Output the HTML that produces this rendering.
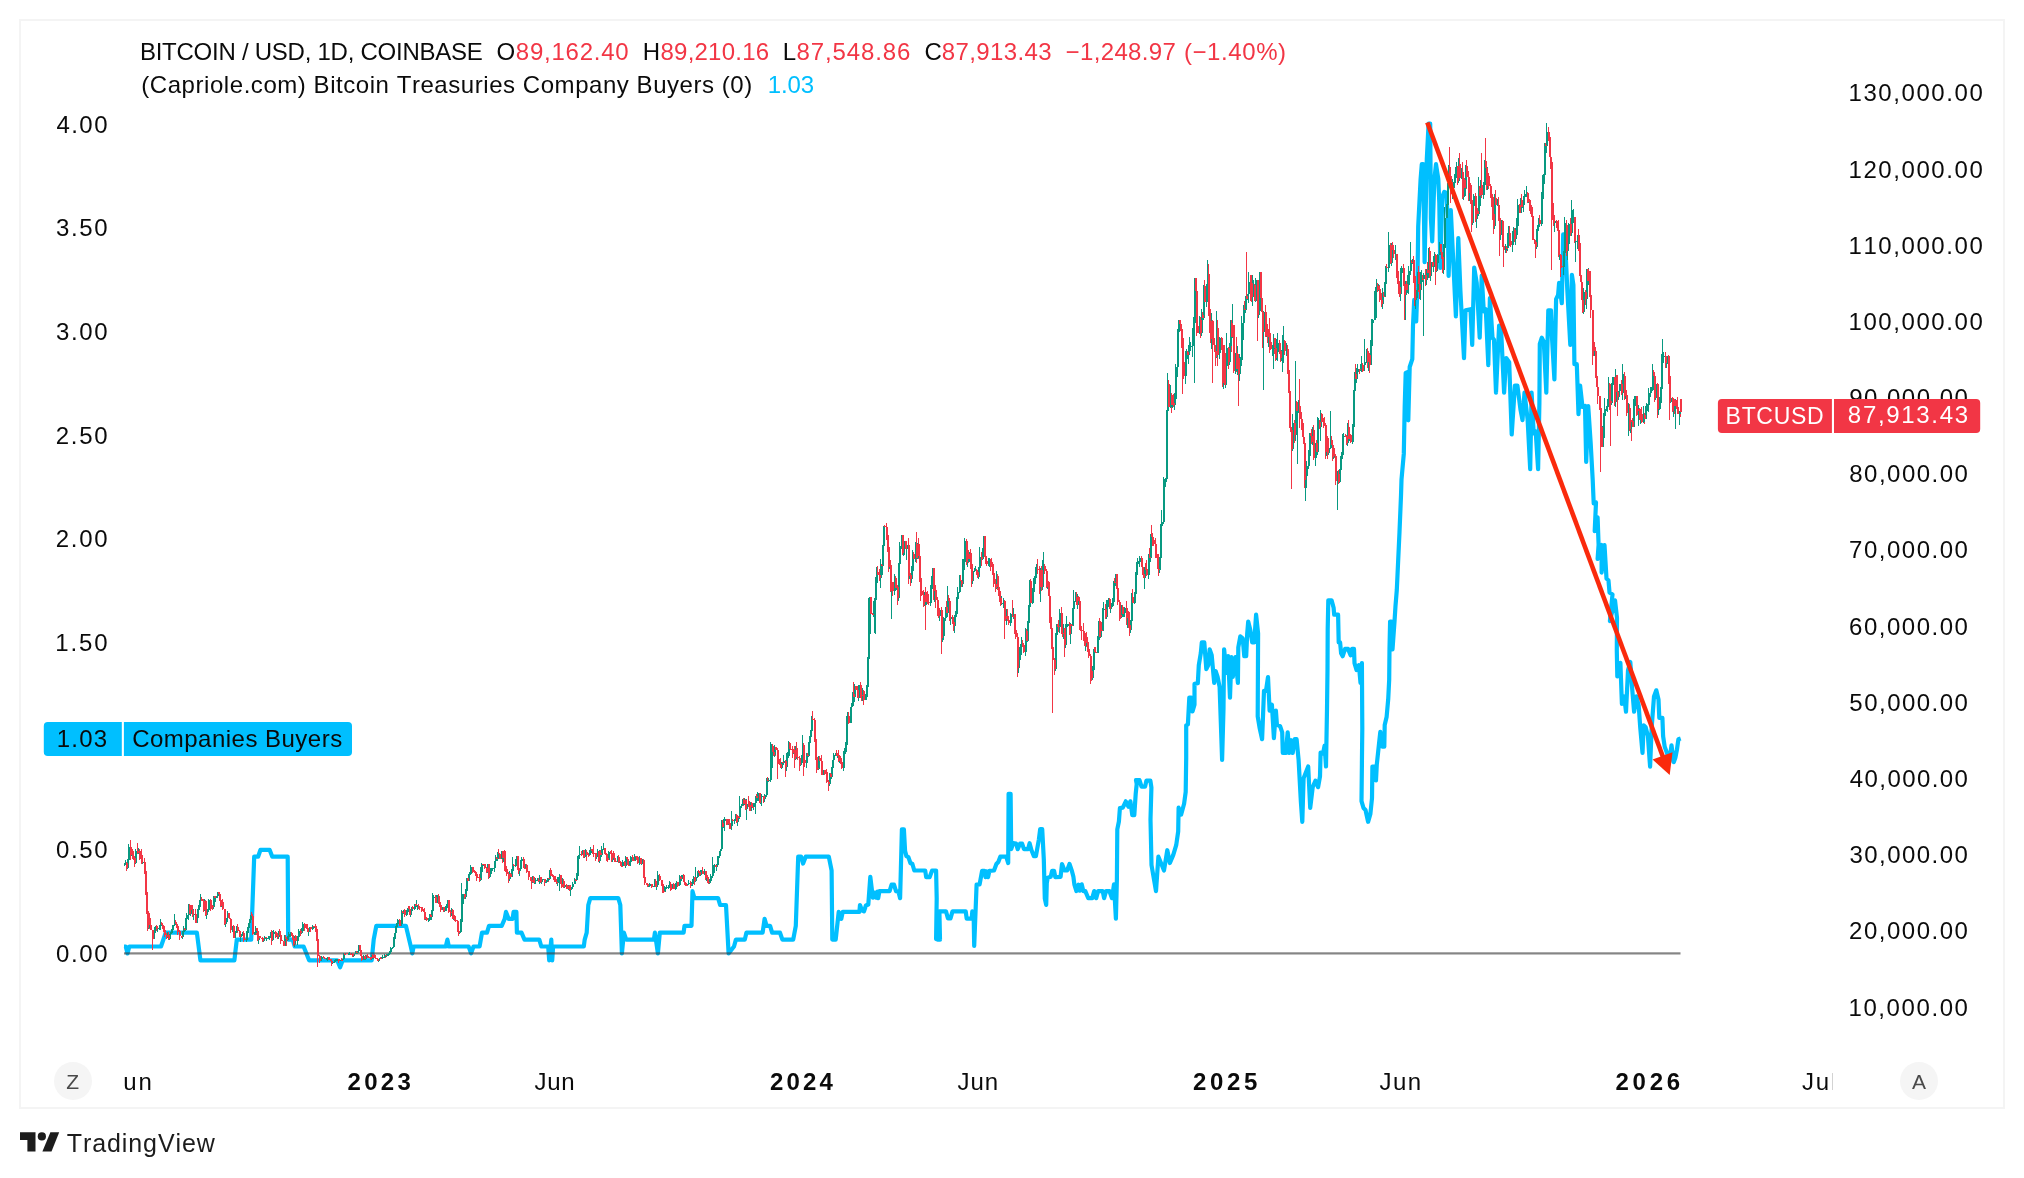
<!DOCTYPE html>
<html><head><meta charset="utf-8"><title>chart</title>
<style>html,body{margin:0;padding:0;background:#fff;overflow:hidden}body{width:2024px;height:1178px;font-family:"Liberation Sans",sans-serif}</style></head>
<body>
<svg width="2024" height="1178" viewBox="0 0 2024 1178" font-family='"Liberation Sans", sans-serif' style="display:block;font-kerning:none">
<rect width="2024" height="1178" fill="#fff"/>
<rect width="1" height="1" fill="#fff" style="mix-blend-mode:multiply"/>
<rect x="20" y="20" width="1984" height="1088" fill="none" stroke="#f4f4f4" stroke-width="2"/>
<path d="M124.0 946.5L125.8 946.5L127.5 953.4L129.3 946.5L161.0 946.5L165.7 932.7L196.9 932.7L200.4 960.3L234.4 960.3L236.8 939.6L251.2 939.6L254.2 856.7L258.1 856.7L260.5 849.8L269.6 849.8L272.3 856.7L287.7 856.7L288.2 939.6L292.7 939.6L294.7 946.5L303.6 946.5L309.1 960.3L337.2 960.3L340.1 967.2L342.7 960.3L371.7 960.3L373.7 939.6L376.3 925.8L405.9 925.8L410.8 946.5L412.3 953.4L413.6 946.5L445.8 946.5L447.4 939.6L448.8 946.5L468.6 946.5L471.1 953.4L473.5 946.5L479.6 946.5L482.0 932.7L487.0 932.7L489.0 925.8L501.7 925.8L504.7 918.9L506.0 911.9L508.7 918.9L512.6 918.9L513.6 911.9L516.4 911.9L516.9 932.7L521.5 932.7L524.5 939.6L539.3 939.6L541.3 946.5L548.2 946.5L549.2 960.3L551.3 939.6L552.2 960.3L553.1 946.5L583.8 946.5L584.7 939.6L586.7 932.7L588.3 905.0L590.3 898.1L618.3 898.1L620.3 905.0L621.9 953.4L623.9 932.7L626.2 939.6L653.9 939.6L654.9 932.7L657.9 953.4L659.8 932.7L683.6 932.7L684.5 925.8L691.5 925.8L692.5 891.2L694.4 898.1L718.1 898.1L720.1 905.0L726.0 905.0L728.6 953.4L734.0 946.5L735.9 939.6L744.8 939.6L746.4 932.7L762.6 932.7L764.6 918.9L766.6 925.8L770.1 925.8L772.1 932.7L780.0 932.7L782.4 939.6L793.2 939.6L795.8 925.8L798.2 856.7L801.2 856.7L803.1 863.6L805.7 856.7L828.8 856.7L831.6 870.5L832.3 939.6L835.7 939.6L838.7 911.9L841.3 918.9L842.7 911.9L859.4 911.9L860.0 905.0L862.0 910.4L864.0 911.4L865.9 905.5L868.3 904.5L870.3 876.8L872.8 897.6L874.8 892.6L876.2 897.6L877.4 891.7L878.2 898.2L879.4 891.1L889.6 891.1L891.6 884.7L894.0 884.7L896.0 891.1L898.5 891.7L900.1 898.2L901.9 829.4L903.9 829.4L905.1 851.1L906.4 856.1L908.4 857.1L910.4 863.0L912.4 864.0L914.3 870.5L925.2 870.5L926.2 877.2L929.6 877.2L932.1 870.5L936.1 870.5L936.7 898.6L936.1 939.1L938.1 939.7L938.7 918.3L940.0 939.7L939.4 911.4L946.0 911.4L947.9 918.3L950.5 918.3L952.5 911.4L965.7 911.4L966.7 918.7L971.7 918.7L972.3 911.4L973.6 912.4L974.2 946.0L976.6 884.7L979.6 884.3L982.1 870.9L984.5 870.9L985.5 877.2L986.5 871.3L988.1 877.2L989.4 870.9L994.0 870.5L996.4 864.0L998.3 862.0L1000.3 856.7L1006.2 856.7L1008.2 863.0L1008.6 793.8L1010.6 793.8L1011.2 849.2L1013.2 843.2L1016.1 843.6L1017.7 849.2L1020.1 843.6L1022.1 843.6L1024.0 849.2L1028.0 849.2L1029.6 843.2L1031.5 850.2L1033.9 856.1L1035.9 856.1L1038.9 839.3L1040.2 829.0L1042.2 829.0L1043.8 859.1L1044.8 898.6L1046.2 904.9L1046.8 882.8L1047.7 877.8L1050.7 876.8L1052.1 870.9L1054.1 870.9L1055.3 877.2L1060.6 876.8L1062.0 864.0L1064.5 870.5L1067.1 870.5L1069.5 864.0L1071.9 870.9L1073.4 876.8L1074.4 884.7L1076.4 891.1L1078.4 884.7L1079.8 890.7L1081.7 884.3L1083.3 891.1L1085.3 891.1L1088.3 898.2L1092.2 898.2L1094.2 891.1L1096.2 898.2L1098.1 891.1L1102.7 891.1L1104.1 898.2L1106.0 891.1L1109.4 891.1L1112.0 898.2L1114.0 884.3L1115.9 918.7L1116.9 878.8L1117.3 829.4L1118.9 821.5L1119.9 808.1L1122.8 807.7L1125.8 801.3L1128.4 806.7L1130.4 801.3L1132.3 815.2L1134.3 815.2L1135.7 793.8L1136.7 784.0L1136.0 780.1L1139.5 780.1L1141.5 786.6L1145.1 786.6L1146.4 780.7L1150.4 780.7L1151.4 787.6L1150.5 819.5L1151.5 865.0L1156.0 891.1L1158.4 856.7L1161.4 864.0L1164.0 870.5L1167.3 850.2L1169.9 863.0L1173.2 855.1L1176.2 845.2L1178.2 831.4L1178.6 807.7L1181.1 814.6L1184.1 803.7L1185.7 791.9L1186.2 758.0L1186.2 725.4L1187.9 724.4L1189.3 697.7L1191.3 697.7L1192.5 711.5L1194.5 704.6L1194.5 683.9L1197.8 683.3L1198.8 665.1L1200.8 653.2L1201.8 642.4L1204.3 642.4L1206.3 669.1L1208.3 665.1L1209.7 649.3L1211.7 655.2L1214.2 682.9L1215.6 671.0L1217.6 677.0L1219.6 686.8L1222.1 760.0L1223.5 708.6L1224.1 649.3L1226.5 673.0L1228.1 656.2L1230.0 697.7L1231.4 657.2L1232.8 677.0L1235.4 657.2L1237.9 682.9L1238.3 647.3L1240.3 636.4L1242.7 638.4L1244.3 656.2L1246.2 656.2L1247.2 633.5L1248.2 621.6L1250.2 629.5L1252.2 642.4L1254.2 642.4L1256.1 614.7L1258.1 633.5L1257.7 716.5L1259.7 728.3L1262.1 739.2L1264.0 690.8L1266.0 690.8L1268.0 677.0L1269.6 710.6L1271.9 704.6L1273.9 738.2L1275.9 710.6L1276.9 724.4L1280.2 726.4L1282.2 732.3L1282.8 753.0L1285.8 753.0L1287.7 732.3L1289.3 753.0L1291.3 740.2L1292.7 753.0L1294.7 739.2L1296.6 739.2L1298.6 760.0L1300.9 802.1L1302.3 821.8L1303.6 778.3L1308.2 766.5L1310.2 808.0L1312.7 787.2L1315.5 780.7L1318.1 787.2L1320.0 776.4L1320.6 752.6L1323.0 753.6L1324.6 745.7L1326.0 766.5L1327.0 709.2L1327.5 669.6L1327.7 629.5L1328.3 600.3L1331.6 600.3L1333.6 607.8L1334.2 614.7L1338.1 614.7L1338.7 642.4L1340.1 642.4L1341.1 653.2L1342.7 656.2L1345.1 648.9L1348.0 648.9L1350.6 655.2L1352.0 648.9L1354.0 648.9L1354.5 663.1L1356.5 670.0L1358.9 665.1L1360.5 682.9L1361.9 663.1L1362.3 728.3L1361.5 801.1L1363.5 808.0L1365.5 810.0L1368.1 821.8L1370.4 813.9L1372.0 798.1L1372.4 766.5L1374.4 766.5L1376.0 780.3L1376.8 764.5L1378.7 746.7L1380.3 731.9L1382.3 746.7L1384.3 746.7L1384.7 725.0L1386.6 717.1L1388.2 699.3L1389.2 679.5L1389.5 649.3L1390.1 621.6L1391.5 621.6L1392.5 649.3L1394.5 621.6L1395.5 605.8L1396.8 590.0L1399.5 532.0L1401.0 495.6L1401.5 479.6L1403.8 453.9L1404.7 406.5L1405.7 372.9L1408.0 371.9L1408.3 420.3L1409.7 367.0L1412.3 359.1L1413.0 325.5L1414.2 299.8L1416.2 321.5L1417.4 287.9L1418.2 226.5L1420.6 179.1L1421.8 164.2L1423.2 164.2L1424.6 262.1L1426.8 159.3L1428.6 123.7L1430.2 123.7L1430.9 218.6L1432.2 241.3L1434.4 179.1L1436.0 164.2L1438.3 179.1L1439.3 202.8L1440.3 268.0L1442.3 196.8L1444.3 191.9L1446.2 192.9L1447.8 218.6L1448.6 275.9L1450.8 210.0L1455.9 316.4L1458.3 238.0L1460.4 290.9L1464.0 358.1L1465.5 310.3L1470.5 309.2L1472.2 344.9L1474.2 267.5L1476.7 282.8L1479.7 337.7L1481.7 275.6L1483.8 311.3L1485.8 309.2L1488.3 365.2L1489.9 298.0L1492.5 337.7L1494.0 339.8L1496.0 392.7L1499.1 325.5L1501.1 329.6L1504.1 392.7L1506.2 358.1L1509.2 362.2L1511.7 434.5L1514.9 385.6L1517.4 385.6L1520.4 409.0L1522.5 420.2L1524.5 392.7L1527.6 419.2L1530.2 469.1L1531.6 392.7L1533.7 433.4L1535.7 431.4L1538.1 469.1L1539.4 402.9L1539.8 343.8L1541.8 337.7L1543.8 341.8L1546.3 392.7L1548.3 310.3L1551.0 310.3L1552.0 337.7L1554.4 379.5L1556.1 299.1L1558.1 295.0L1559.1 282.8L1561.8 303.1L1563.2 234.4L1564.8 234.4L1567.3 289.7L1570.3 344.9L1571.9 274.9L1573.4 285.0L1574.4 364.2L1576.8 364.2L1578.5 414.1L1580.1 385.6L1582.5 407.0L1585.0 406.0L1586.2 462.0L1588.2 406.0L1590.7 443.6L1592.7 479.9L1593.7 503.5L1596.0 502.5L1594.7 531.1L1597.6 517.3L1598.6 545.0L1597.6 558.8L1601.6 545.0L1601.6 572.6L1604.5 545.0L1606.5 578.6L1608.5 580.6L1609.5 592.4L1612.5 594.4L1609.9 621.1L1615.0 600.3L1617.0 618.1L1616.8 650.6L1617.3 676.5L1620.4 662.8L1621.9 704.0L1624.2 696.4L1626.0 711.7L1628.0 670.4L1630.3 662.0L1631.8 684.2L1634.1 711.7L1636.4 696.4L1638.7 705.6L1640.2 727.0L1642.5 752.9L1643.7 725.4L1645.6 727.0L1647.9 736.1L1650.1 766.7L1651.7 727.0L1654.0 696.4L1656.3 690.3L1658.5 699.4L1659.3 717.8L1662.4 717.8L1663.1 736.1L1664.7 746.8L1667.0 752.9L1669.2 762.1L1671.5 745.3L1673.8 762.1L1675.4 757.5L1676.9 749.9L1678.4 739.2L1680.7 738.4" stroke="#00bfff" stroke-width="4.2" fill="none" stroke-linejoin="round" stroke-linecap="butt"/>
<rect x="124" y="952.3" width="1556.5" height="2.2" fill="#3a3a3a" fill-opacity="0.62"/>
<g shape-rendering="crispEdges" fill="none">
<path d="M124.50 862.5V865.7M125.50 860.2V864.6M127.50 858.8V868.7M128.50 844.0V861.5M131.50 849.1V855.5M135.50 849.0V864.0M138.50 848.4V854.4M140.50 850.9V859.1M142.50 859.4V864.2M148.50 915.5V929.3M153.50 930.5V938.9M154.50 926.9V932.8M155.50 925.7V929.4M157.50 925.5V931.5M159.50 924.8V929.9M160.50 919.2V929.5M167.50 931.6V937.8M169.50 933.7V940.0M170.50 932.1V935.6M171.50 929.4V934.2M172.50 925.2V930.9M174.50 914.2V925.6M178.50 930.1V932.4M182.50 931.3V938.7M183.50 926.3V932.5M185.50 917.8V930.6M186.50 912.7V919.0M188.50 903.8V919.5M190.50 904.8V915.5M193.50 908.6V920.0M196.50 916.5V922.8M197.50 909.0V920.7M198.50 904.7V913.3M199.50 900.4V908.3M200.50 894.3V901.5M204.50 898.8V911.0M206.50 909.4V919.3M207.50 909.1V915.1M208.50 898.6V912.1M213.50 895.6V908.5M215.50 896.3V901.9M217.50 892.0V898.4M221.50 901.4V907.4M225.50 921.8V927.2M226.50 917.6V922.7M227.50 910.7V918.8M232.50 925.7V932.3M234.50 932.4V937.9M235.50 930.9V934.7M236.50 926.0V932.4M240.50 934.7V941.5M241.50 934.2V936.3M242.50 931.6V935.4M246.50 931.3V942.4M247.50 927.4V936.2M248.50 922.5V927.6M249.50 919.2V923.7M250.50 914.6V921.4M254.50 932.3V934.9M255.50 926.2V934.7M258.50 935.4V943.6M263.50 937.9V941.5M264.50 936.2V939.4M266.50 937.7V940.7M268.50 935.6V938.8M269.50 935.6V939.5M270.50 931.9V938.2M272.50 931.2V941.0M273.50 930.1V935.2M276.50 934.5V936.7M278.50 930.6V938.6M284.50 935.2V945.9M287.50 936.1V941.3M288.50 932.4V936.5M290.50 931.8V937.4M294.50 936.0V947.0M297.50 936.2V944.6M298.50 928.7V938.6M299.50 930.5V931.5M301.50 928.4V934.3M302.50 921.5V931.2M305.50 924.4V928.0M308.50 927.6V936.2M309.50 926.9V931.0M312.50 925.1V929.8M314.50 925.6V928.2M320.50 957.1V961.4M321.50 955.7V958.5M322.50 956.6V959.3M326.50 958.1V960.0M327.50 957.2V960.5M332.50 961.9V964.2M334.50 960.0V962.6M335.50 959.1V961.5M336.50 959.1V960.3M337.50 958.9V960.8M339.50 959.2V961.3M342.50 958.5V961.2M343.50 952.5V959.8M345.50 952.8V955.2M348.50 953.1V954.2M349.50 952.3V954.5M351.50 953.2V954.5M353.50 954.2V957.4M355.50 951.3V954.4M357.50 951.3V953.7M358.50 944.8V951.3M363.50 954.5V959.9M365.50 954.5V959.7M371.50 954.6V959.5M373.50 954.7V959.1M378.50 959.1V961.6M379.50 957.6V960.0M381.50 956.6V959.0M382.50 955.2V958.1M384.50 953.7V957.6M386.50 954.4V957.2M387.50 954.4V955.8M388.50 952.5V955.3M389.50 950.8V953.9M390.50 947.3V952.0M392.50 947.3V949.0M393.50 936.6V948.0M394.50 933.1V939.4M395.50 925.8V934.9M396.50 923.2V928.0M397.50 918.8V924.4M400.50 923.9V926.1M401.50 909.6V926.1M403.50 909.6V913.8M406.50 910.3V915.7M407.50 907.6V912.8M410.50 909.4V917.2M411.50 906.6V912.3M414.50 904.0V910.4M416.50 900.3V907.4M417.50 905.4V909.7M425.50 917.4V920.3M428.50 917.8V921.6M429.50 914.2V921.0M431.50 910.0V919.6M432.50 893.2V913.0M433.50 894.8V901.4M436.50 895.4V902.9M437.50 895.2V900.3M441.50 904.9V910.3M444.50 908.7V911.5M445.50 906.4V910.3M446.50 904.3V911.3M447.50 899.8V906.7M451.50 908.4V915.5M453.50 912.4V920.2M459.50 931.3V933.9M460.50 919.4V932.3M461.50 882.9V923.0M462.50 893.5V904.9M465.50 889.2V898.8M466.50 878.3V891.4M468.50 873.7V880.7M469.50 872.3V874.6M470.50 865.2V875.0M480.50 867.3V881.4M481.50 863.0V874.3M483.50 863.9V865.5M487.50 864.4V872.6M489.50 871.4V877.7M490.50 868.0V875.9M491.50 867.8V871.7M492.50 867.9V870.7M494.50 861.0V871.5M495.50 855.2V862.3M497.50 852.2V861.0M501.50 851.3V859.4M503.50 850.6V862.2M509.50 870.8V880.7M511.50 869.0V877.0M512.50 856.6V872.4M515.50 858.5V866.6M516.50 856.2V861.4M519.50 868.6V875.8M520.50 859.9V869.3M521.50 857.0V863.9M525.50 863.9V868.4M532.50 875.5V883.2M534.50 880.6V883.5M535.50 877.7V884.1M537.50 878.0V880.2M539.50 875.0V884.2M541.50 879.6V883.8M542.50 879.0V880.6M545.50 880.4V882.6M546.50 879.6V883.4M547.50 877.6V882.4M549.50 870.1V879.6M557.50 876.6V885.9M559.50 874.0V891.3M562.50 877.7V887.2M564.50 883.1V888.4M568.50 884.8V889.5M570.50 888.2V896.4M571.50 886.5V889.2M572.50 881.5V887.8M574.50 878.0V884.0M576.50 872.6V880.8M577.50 856.3V878.6M578.50 855.0V859.4M579.50 846.3V856.1M582.50 849.5V855.2M584.50 854.4V857.6M585.50 849.4V857.0M589.50 849.6V856.1M590.50 846.7V853.9M596.50 853.6V859.1M597.50 848.5V854.8M599.50 850.4V863.2M601.50 846.0V856.6M603.50 843.1V850.3M608.50 850.9V860.0M612.50 852.5V862.1M617.50 855.9V861.8M619.50 861.0V862.8M622.50 859.9V866.3M625.50 856.4V867.5M629.50 861.0V865.5M630.50 856.1V865.0M634.50 854.4V861.2M639.50 855.7V865.0M641.50 861.9V864.7M642.50 859.4V862.3M648.50 885.0V887.4M649.50 883.1V886.3M650.50 883.9V885.8M652.50 885.1V887.0M654.50 879.3V886.5M656.50 884.2V890.2M657.50 871.0V885.8M658.50 874.8V877.4M664.50 885.6V891.5M665.50 887.0V888.6M666.50 885.4V888.9M668.50 885.2V888.6M669.50 880.9V887.1M672.50 883.7V888.5M675.50 883.4V889.8M676.50 880.8V886.3M678.50 883.0V886.4M679.50 874.5V886.3M681.50 875.3V880.7M687.50 883.9V885.9M688.50 880.2V885.0M691.50 882.2V885.8M692.50 878.7V886.3M693.50 875.5V879.6M695.50 867.2V881.6M697.50 870.8V877.6M700.50 870.4V875.6M701.50 870.3V875.2M704.50 868.6V874.9M706.50 874.8V880.8M709.50 878.7V884.3M710.50 873.9V882.7M712.50 856.9V878.0M713.50 864.5V873.3M714.50 864.4V868.5M716.50 863.9V870.9M717.50 856.1V866.0M719.50 850.6V857.7M720.50 848.6V850.7M721.50 820.4V849.3M723.50 819.3V827.5M724.50 816.7V830.6M727.50 821.4V824.9M730.50 822.6V828.8M731.50 811.3V829.6M734.50 818.5V823.8M735.50 814.3V820.7M737.50 814.7V825.7M739.50 795.9V819.3M741.50 804.0V808.2M742.50 799.3V806.0M744.50 798.2V804.8M746.50 799.2V819.6M750.50 801.9V810.5M753.50 802.7V809.5M755.50 795.7V813.9M757.50 792.0V800.9M758.50 792.7V800.5M760.50 795.7V803.5M761.50 793.8V805.5M764.50 793.6V802.2M765.50 794.5V797.9M766.50 777.8V797.0M768.50 778.3V782.1M770.50 741.9V782.4M771.50 744.4V768.6M774.50 744.6V756.8M781.50 761.5V769.3M783.50 754.5V764.5M786.50 753.3V771.2M787.50 752.0V762.6M788.50 741.4V757.9M793.50 749.5V753.8M795.50 746.3V759.5M800.50 761.3V765.5M801.50 755.4V763.1M802.50 735.2V758.7M806.50 752.7V767.8M808.50 741.8V757.2M809.50 735.5V743.7M810.50 730.2V737.4M811.50 715.6V735.9M818.50 755.5V769.6M822.50 770.0V775.3M823.50 769.7V773.4M825.50 772.0V774.0M829.50 772.9V785.8M831.50 767.2V779.4M832.50 759.8V769.5M833.50 752.5V761.4M835.50 752.8V756.2M837.50 753.7V758.2M839.50 755.3V763.1M843.50 750.9V770.7M844.50 748.4V754.6M845.50 741.7V753.8M846.50 716.2V749.0M847.50 712.2V723.9M850.50 707.1V723.1M851.50 703.4V707.9M852.50 692.2V705.7M854.50 684.3V701.9M858.50 684.8V700.7M859.50 684.7V689.9M862.50 688.1V701.2M865.50 693.9V700.4M866.50 685.3V698.5M867.50 656.9V690.7M868.50 597.7V664.8M869.50 596.6V634.3M873.50 600.6V616.9M874.50 598.4V633.3M875.50 577.3V634.4M876.50 566.6V584.1M880.50 559.4V588.0M882.50 544.5V574.9M883.50 525.9V546.6M889.50 562.5V568.5M891.50 579.4V618.6M894.50 574.0V595.0M896.50 585.8V590.4M898.50 562.8V600.9M899.50 541.8V565.8M901.50 535.1V548.7M903.50 543.5V556.1M904.50 541.0V555.0M906.50 542.5V559.6M909.50 569.8V578.9M911.50 566.1V583.4M912.50 550.0V578.3M915.50 541.9V562.3M917.50 542.8V559.2M924.50 592.3V605.6M926.50 593.4V605.2M930.50 585.2V606.0M931.50 576.3V597.3M932.50 567.5V578.7M934.50 584.6V601.8M939.50 608.3V621.2M940.50 609.6V612.2M942.50 635.9V642.2M943.50 617.1V639.8M945.50 606.8V620.8M947.50 586.0V616.8M950.50 612.4V625.0M954.50 615.4V633.3M955.50 611.1V623.1M956.50 597.1V614.4M957.50 586.8V602.8M959.50 575.4V593.0M962.50 559.3V587.2M963.50 558.5V577.1M964.50 537.5V568.3M967.50 548.1V566.7M969.50 551.9V562.2M972.50 566.7V584.3M974.50 567.9V571.6M975.50 566.0V570.3M978.50 567.3V578.7M979.50 547.4V571.6M982.50 548.3V559.6M983.50 536.4V553.1M988.50 557.9V565.9M989.50 558.0V566.7M996.50 571.4V588.8M1001.50 595.8V605.2M1003.50 597.7V608.1M1006.50 608.8V625.3M1010.50 612.9V626.3M1011.50 614.0V619.0M1013.50 607.9V619.4M1018.50 654.2V672.5M1019.50 646.7V659.5M1020.50 643.8V659.2M1021.50 636.6V645.5M1025.50 627.9V655.5M1027.50 621.2V641.8M1028.50 605.2V625.6M1029.50 580.3V612.3M1032.50 587.9V604.3M1033.50 578.0V592.9M1034.50 576.4V586.5M1035.50 566.8V583.5M1036.50 564.4V572.2M1040.50 567.8V601.8M1042.50 559.9V590.4M1043.50 552.4V571.5M1047.50 577.2V588.8M1055.50 633.4V671.2M1056.50 623.6V642.4M1059.50 609.1V633.1M1063.50 623.9V639.4M1065.50 624.1V648.0M1066.50 615.7V632.2M1068.50 623.5V626.0M1070.50 622.8V643.5M1072.50 607.7V626.2M1073.50 589.9V616.2M1075.50 591.9V602.4M1077.50 594.2V609.2M1085.50 634.4V650.8M1092.50 666.1V679.9M1093.50 649.3V672.2M1097.50 636.4V653.3M1098.50 621.1V640.4M1100.50 629.2V638.4M1102.50 607.8V631.1M1103.50 601.9V610.4M1106.50 599.6V618.7M1107.50 600.0V605.5M1108.50 598.3V606.7M1110.50 601.4V613.2M1112.50 597.6V606.8M1113.50 580.6V606.4M1115.50 574.3V585.5M1121.50 604.5V618.4M1123.50 610.6V617.0M1124.50 606.6V617.3M1127.50 607.7V628.1M1130.50 620.0V632.5M1131.50 592.6V623.8M1134.50 592.2V603.9M1135.50 571.9V598.6M1136.50 561.6V575.6M1137.50 557.8V568.6M1138.50 561.2V562.4M1139.50 555.7V566.9M1144.50 566.5V588.9M1148.50 553.8V578.6M1150.50 534.4V562.2M1156.50 551.4V558.3M1159.50 556.8V573.1M1160.50 524.1V560.9M1161.50 509.9V529.9M1163.50 476.6V523.9M1164.50 478.8V493.7M1165.50 478.2V483.0M1166.50 409.7V480.3M1167.50 372.6V412.1M1170.50 385.4V408.2M1172.50 395.5V408.3M1174.50 393.4V409.5M1175.50 364.1V402.4M1177.50 329.1V376.8M1178.50 319.9V338.4M1185.50 350.7V383.5M1186.50 348.9V361.0M1188.50 344.5V364.0M1189.50 336.8V354.5M1190.50 341.9V346.6M1192.50 328.2V357.0M1193.50 317.0V333.8M1194.50 277.5V383.3M1199.50 316.2V333.6M1201.50 309.1V335.8M1203.50 284.9V319.9M1206.50 284.0V307.0M1207.50 259.7V295.8M1211.50 312.5V348.5M1216.50 311.4V358.4M1218.50 348.8V354.7M1219.50 336.8V358.8M1223.50 346.1V389.3M1225.50 353.3V387.6M1226.50 333.3V377.7M1229.50 342.6V364.8M1230.50 320.0V354.6M1232.50 303.7V338.2M1235.50 352.6V373.9M1237.50 345.6V374.9M1239.50 354.0V380.5M1240.50 356.6V363.4M1241.50 316.4V365.7M1243.50 304.7V339.6M1245.50 296.1V312.8M1247.50 293.5V299.8M1248.50 272.3V303.3M1252.50 275.1V306.4M1253.50 280.0V295.8M1255.50 277.7V301.5M1258.50 301.2V318.0M1259.50 271.6V314.2M1263.50 311.2V390.4M1266.50 319.9V337.2M1268.50 331.6V346.6M1272.50 344.8V356.4M1273.50 334.3V369.1M1276.50 339.3V359.5M1277.50 333.4V361.2M1281.50 349.9V360.6M1282.50 334.6V372.0M1283.50 326.3V362.7M1286.50 342.8V355.9M1292.50 413.5V450.8M1295.50 360.7V440.5M1297.50 402.7V464.1M1298.50 400.0V413.0M1305.50 469.5V501.0M1306.50 460.9V487.7M1308.50 449.5V468.5M1309.50 433.2V460.5M1312.50 426.6V445.1M1315.50 443.2V466.1M1317.50 416.5V454.8M1318.50 417.9V436.4M1320.50 409.5V440.8M1326.50 435.1V455.7M1328.50 441.4V454.8M1330.50 410.7V448.9M1333.50 451.4V458.7M1337.50 471.4V510.0M1339.50 468.9V483.0M1340.50 455.8V471.0M1341.50 452.3V459.0M1342.50 433.6V459.4M1343.50 433.3V437.2M1347.50 422.8V445.5M1349.50 430.0V441.4M1352.50 424.2V443.6M1353.50 389.9V430.0M1354.50 372.2V392.7M1356.50 368.1V383.4M1357.50 364.1V376.1M1360.50 363.6V370.7M1361.50 355.5V371.7M1363.50 365.2V371.2M1364.50 339.3V368.9M1366.50 349.1V362.8M1368.50 353.2V371.4M1370.50 340.3V365.4M1371.50 319.3V346.1M1372.50 319.4V323.4M1374.50 290.5V320.3M1375.50 286.8V291.6M1376.50 278.7V317.9M1378.50 284.3V291.2M1382.50 288.3V309.4M1384.50 281.8V297.4M1385.50 265.8V286.5M1388.50 232.4V271.5M1389.50 244.6V256.8M1391.50 243.4V266.0M1395.50 244.7V259.7M1400.50 268.1V301.1M1401.50 265.9V283.2M1405.50 281.3V320.3M1407.50 274.8V292.5M1408.50 265.7V293.5M1410.50 241.9V275.2M1412.50 259.4V264.1M1415.50 283.0V308.9M1417.50 271.7V298.2M1420.50 271.7V300.1M1421.50 269.8V290.2M1423.50 272.8V336.3M1426.50 269.0V284.8M1428.50 248.3V277.6M1430.50 254.7V280.8M1433.50 255.8V271.6M1434.50 252.1V266.5M1436.50 257.1V271.9M1437.50 253.5V269.9M1439.50 241.6V255.3M1443.50 243.7V273.7M1444.50 206.6V247.9M1446.50 204.2V217.9M1447.50 183.0V204.5M1448.50 164.7V186.1M1452.50 178.8V199.1M1454.50 174.4V188.4M1455.50 166.8V183.3M1456.50 161.5V171.3M1458.50 158.4V182.8M1461.50 167.5V179.3M1463.50 173.7V200.1M1465.50 164.5V196.2M1469.50 180.1V200.8M1472.50 204.5V225.0M1473.50 194.4V210.3M1476.50 209.4V228.2M1478.50 176.6V215.6M1480.50 179.8V206.4M1483.50 181.6V198.5M1484.50 159.7V189.2M1487.50 166.8V189.7M1494.50 193.5V229.1M1497.50 199.1V206.0M1500.50 226.3V239.5M1501.50 219.6V232.5M1505.50 243.9V252.7M1507.50 233.3V250.6M1508.50 225.6V245.1M1512.50 230.9V252.3M1513.50 227.3V239.1M1515.50 227.6V244.6M1516.50 217.6V232.3M1517.50 198.6V235.0M1520.50 198.2V213.0M1522.50 203.6V207.8M1523.50 196.2V211.9M1524.50 190.0V200.6M1526.50 186.0V197.2M1528.50 193.8V203.0M1536.50 229.0V248.8M1537.50 224.9V233.8M1538.50 217.6V229.4M1541.50 191.6V225.6M1542.50 174.8V202.1M1543.50 173.8V193.5M1544.50 143.0V183.6M1546.50 123.3V153.3M1554.50 216.4V232.1M1559.50 244.2V260.4M1563.50 251.3V274.9M1564.50 216.6V258.3M1565.50 223.3V242.2M1567.50 234.4V259.8M1568.50 222.7V244.8M1571.50 199.8V235.8M1572.50 210.4V225.2M1573.50 209.4V220.7M1575.50 239.5V262.1M1577.50 234.5V249.4M1583.50 288.1V313.5M1586.50 268.9V308.5M1588.50 268.0V285.0M1593.50 340.0V355.7M1602.50 425.8V446.5M1603.50 413.0V431.5M1604.50 398.3V438.1M1606.50 405.5V411.0M1607.50 398.6V412.4M1608.50 376.8V406.7M1611.50 383.4V404.9M1612.50 377.1V389.8M1615.50 368.9V406.8M1618.50 390.7V400.3M1619.50 383.5V392.5M1622.50 364.0V399.6M1623.50 373.6V377.4M1625.50 383.6V399.4M1628.50 403.4V436.1M1630.50 419.7V433.1M1633.50 398.6V426.5M1634.50 395.5V406.7M1638.50 404.6V426.2M1640.50 411.7V424.2M1643.50 406.3V423.0M1645.50 405.8V419.1M1646.50 403.1V412.6M1647.50 404.2V408.9M1648.50 387.9V412.3M1650.50 387.2V396.6M1651.50 387.1V392.4M1652.50 364.0V391.3M1655.50 383.9V399.8M1658.50 403.8V415.3M1659.50 396.6V409.1M1660.50 386.5V403.7M1661.50 353.7V390.1M1662.50 339.3V366.9M1663.50 352.3V359.7M1666.50 361.0V368.4M1667.50 355.6V363.5M1670.50 397.5V403.1M1673.50 398.5V416.5M1675.50 398.8V429.2M1679.50 410.8V424.9" stroke="#089981" stroke-width="1"/>
<path d="M126.50 861.6V871.1M130.50 839.5V859.8M132.50 849.0V858.6M133.50 855.6V859.7M134.50 856.1V866.6M137.50 842.5V853.6M139.50 848.9V859.7M141.50 849.4V863.7M144.50 857.7V873.5M145.50 868.8V895.4M146.50 891.5V914.1M147.50 910.0V931.4M149.50 913.3V928.5M150.50 922.5V929.7M152.50 929.6V950.2M156.50 925.1V931.4M161.50 922.1V925.5M162.50 922.6V929.4M163.50 929.0V931.7M164.50 925.6V937.3M166.50 933.2V938.6M168.50 931.6V940.0M175.50 919.8V924.7M176.50 922.6V928.0M177.50 923.7V934.6M179.50 929.8V940.3M181.50 936.1V937.6M184.50 928.2V930.2M189.50 904.1V915.4M191.50 904.7V910.9M192.50 910.0V916.9M195.50 908.7V922.9M201.50 897.2V900.8M203.50 898.6V911.5M205.50 899.5V915.9M210.50 899.4V910.8M211.50 903.9V908.7M212.50 905.4V909.8M214.50 896.0V899.6M218.50 892.0V893.8M219.50 893.7V901.0M220.50 899.2V906.9M222.50 899.2V909.7M224.50 908.5V925.1M228.50 913.3V918.3M229.50 915.1V919.3M230.50 917.7V933.3M233.50 924.6V938.3M237.50 924.1V933.4M239.50 929.5V937.3M243.50 931.3V941.9M244.50 938.8V940.4M251.50 911.7V919.2M252.50 913.5V935.4M256.50 927.8V934.6M257.50 927.9V941.1M259.50 935.7V939.0M261.50 937.8V939.1M262.50 937.1V941.8M265.50 937.1V938.3M271.50 930.0V944.6M275.50 931.3V938.4M277.50 932.6V939.2M279.50 928.9V936.3M280.50 934.8V944.0M281.50 939.2V941.4M283.50 940.6V945.9M285.50 935.2V938.7M286.50 937.6V946.2M291.50 931.6V936.3M292.50 934.8V940.2M293.50 936.6V945.6M295.50 934.6V944.8M300.50 929.1V936.2M304.50 922.7V930.8M306.50 924.3V929.4M307.50 927.2V931.8M310.50 926.7V931.6M313.50 925.6V928.4M315.50 924.3V931.8M316.50 927.6V941.3M317.50 938.9V967.0M319.50 955.2V963.0M323.50 956.0V958.3M324.50 957.3V959.2M328.50 957.3V959.5M329.50 958.0V959.5M330.50 958.8V961.4M331.50 959.6V966.0M338.50 958.7V962.6M341.50 958.4V961.4M344.50 953.2V954.2M346.50 952.6V954.4M350.50 953.2V954.8M352.50 953.0V957.2M356.50 951.4V953.3M359.50 944.8V950.8M360.50 950.0V956.1M361.50 955.0V960.5M364.50 955.6V959.6M366.50 954.9V955.9M367.50 954.0V957.7M368.50 955.9V957.4M370.50 956.7V960.4M372.50 953.8V958.7M374.50 954.1V958.4M375.50 958.1V959.1M377.50 958.0V960.6M380.50 957.3V958.8M385.50 955.0V958.1M399.50 919.1V926.3M402.50 910.5V916.7M404.50 909.1V916.9M408.50 906.0V912.4M409.50 906.2V914.9M412.50 905.9V909.3M415.50 903.9V906.7M418.50 904.4V908.7M419.50 906.3V910.4M421.50 906.7V911.8M422.50 907.1V911.2M423.50 909.9V912.2M424.50 908.4V919.8M426.50 917.3V920.8M430.50 913.9V917.2M435.50 895.3V902.9M438.50 894.3V904.1M439.50 899.6V907.4M440.50 904.5V912.0M443.50 906.8V911.7M448.50 899.8V913.2M450.50 910.3V917.0M452.50 909.1V918.9M454.50 915.3V920.7M455.50 919.3V921.5M457.50 919.5V931.9M458.50 930.5V935.6M464.50 893.6V899.0M467.50 878.3V881.3M472.50 866.6V872.5M473.50 869.1V871.7M474.50 870.0V873.0M475.50 871.4V876.2M476.50 873.5V880.8M477.50 876.1V877.8M479.50 874.2V882.1M482.50 863.9V867.8M484.50 863.9V869.1M486.50 866.7V872.6M488.50 863.5V878.8M496.50 856.6V859.3M498.50 849.3V855.0M499.50 852.5V859.0M502.50 850.9V862.8M504.50 850.3V870.8M505.50 864.6V871.6M506.50 868.3V876.4M508.50 872.2V882.8M510.50 873.2V877.4M513.50 863.7V866.6M517.50 856.2V869.9M518.50 867.7V874.0M523.50 857.3V867.5M524.50 864.8V868.2M526.50 863.8V872.9M527.50 869.7V872.1M528.50 870.9V879.5M530.50 876.7V880.7M531.50 879.3V888.7M533.50 875.8V883.2M538.50 878.4V881.9M540.50 877.1V883.3M544.50 878.8V885.9M548.50 877.8V882.0M550.50 868.2V878.9M552.50 874.4V876.7M553.50 875.4V880.4M554.50 878.7V881.8M555.50 876.3V881.9M556.50 878.6V884.1M560.50 874.6V884.1M561.50 881.2V887.6M563.50 878.8V887.8M566.50 884.0V888.6M567.50 885.1V888.8M569.50 884.8V890.8M575.50 878.5V881.2M581.50 851.1V855.6M583.50 849.7V857.9M586.50 850.2V860.5M588.50 852.6V856.8M591.50 848.6V851.7M592.50 850.0V854.1M593.50 845.0V857.3M595.50 852.9V860.5M598.50 851.1V862.4M600.50 849.6V856.9M604.50 847.6V854.2M605.50 853.4V855.4M606.50 852.7V860.8M607.50 857.7V862.1M610.50 850.6V854.0M611.50 849.6V862.0M613.50 851.0V859.7M614.50 857.2V861.5M615.50 859.2V862.0M618.50 854.9V862.9M620.50 861.1V866.3M621.50 862.4V866.3M624.50 861.4V866.2M626.50 857.0V860.8M627.50 857.3V864.9M628.50 862.7V865.5M632.50 854.9V861.0M633.50 858.9V861.2M635.50 856.0V858.9M636.50 856.2V859.6M637.50 856.2V863.9M640.50 857.8V864.0M643.50 859.3V877.8M644.50 875.4V885.1M646.50 882.5V884.9M647.50 883.2V887.4M651.50 883.5V888.3M655.50 878.9V887.4M659.50 874.0V881.0M661.50 879.7V886.2M662.50 882.0V892.6M663.50 890.5V893.1M670.50 882.1V891.1M671.50 887.1V889.6M673.50 883.2V888.9M677.50 882.1V886.9M680.50 875.9V879.6M683.50 873.9V882.2M684.50 880.8V884.6M685.50 882.4V886.0M686.50 882.7V884.9M690.50 881.1V888.4M694.50 876.6V884.7M698.50 869.8V872.7M699.50 871.2V876.2M702.50 866.5V874.3M705.50 870.5V880.3M707.50 875.4V883.3M708.50 881.5V884.3M715.50 864.6V867.1M722.50 820.4V827.3M726.50 818.6V825.2M728.50 819.3V823.0M729.50 819.0V828.8M732.50 819.4V825.6M736.50 813.7V822.7M738.50 816.2V817.4M743.50 797.8V805.7M745.50 799.1V809.8M748.50 795.9V806.9M749.50 801.1V811.1M751.50 801.8V809.4M752.50 803.9V807.1M756.50 793.9V802.8M759.50 792.7V803.3M763.50 795.9V802.5M767.50 777.0V780.9M772.50 743.6V752.3M773.50 749.9V755.7M775.50 746.6V756.2M777.50 747.7V778.5M778.50 759.8V764.1M779.50 759.4V765.2M780.50 757.6V767.7M782.50 761.6V767.9M785.50 760.1V776.6M789.50 742.2V755.3M790.50 748.8V749.8M792.50 746.4V758.0M794.50 745.8V767.6M796.50 741.5V758.5M797.50 753.7V760.3M799.50 756.4V770.8M803.50 743.1V775.9M804.50 756.0V766.9M807.50 752.9V759.0M812.50 711.1V721.1M814.50 718.3V741.5M815.50 736.5V759.8M816.50 751.7V772.6M817.50 765.7V770.2M819.50 755.9V766.6M821.50 755.1V774.6M824.50 769.9V774.7M826.50 769.4V782.9M828.50 780.3V791.2M830.50 773.1V778.7M836.50 750.3V756.1M838.50 750.0V761.9M840.50 756.4V763.6M841.50 760.5V768.6M848.50 712.2V723.5M853.50 682.2V697.7M855.50 686.3V691.9M857.50 686.1V698.2M860.50 681.9V698.3M861.50 693.6V700.8M863.50 690.0V705.3M870.50 596.6V619.3M872.50 613.0V615.0M877.50 566.1V575.3M879.50 569.3V581.0M881.50 563.8V569.3M884.50 525.3V528.8M886.50 523.3V539.5M887.50 531.7V552.1M888.50 544.2V571.5M890.50 560.0V592.0M892.50 581.5V596.0M895.50 575.8V590.1M897.50 585.4V604.6M902.50 535.1V555.0M905.50 541.0V549.3M908.50 538.3V584.3M910.50 573.1V586.0M913.50 552.4V563.2M916.50 531.6V563.1M918.50 538.1V559.1M919.50 550.4V581.7M920.50 571.2V600.9M921.50 586.1V596.0M923.50 589.9V606.5M925.50 587.1V630.4M927.50 590.6V604.0M928.50 599.4V604.7M933.50 567.5V599.6M935.50 585.0V607.7M937.50 597.2V616.0M938.50 607.6V618.3M941.50 606.5V654.2M946.50 601.4V616.8M948.50 595.0V605.4M949.50 600.9V620.7M952.50 615.2V624.0M953.50 618.8V631.2M960.50 574.8V585.3M961.50 580.0V586.8M966.50 539.3V565.2M968.50 550.0V562.7M970.50 548.8V568.9M971.50 562.3V586.6M976.50 569.2V575.0M977.50 569.9V578.1M981.50 552.0V566.4M984.50 536.4V557.2M985.50 555.4V564.4M986.50 556.8V566.3M990.50 558.8V571.2M991.50 558.3V567.4M992.50 562.1V574.6M993.50 565.0V586.6M995.50 578.8V592.1M997.50 574.4V589.9M998.50 581.5V596.3M999.50 588.6V601.8M1000.50 591.4V606.4M1004.50 600.2V639.3M1005.50 612.6V620.9M1007.50 609.2V620.7M1008.50 618.0V625.1M1012.50 599.8V617.4M1014.50 613.8V634.0M1015.50 630.1V638.5M1017.50 633.1V676.9M1022.50 640.2V646.7M1023.50 642.6V652.8M1026.50 628.8V645.4M1030.50 579.4V606.1M1037.50 559.1V573.9M1039.50 565.7V594.2M1041.50 565.9V590.5M1044.50 564.0V573.6M1046.50 568.9V587.7M1048.50 581.3V596.0M1049.50 595.4V623.4M1050.50 611.7V628.7M1051.50 625.0V648.9M1052.50 646.0V712.5M1054.50 657.5V675.1M1057.50 624.0V629.1M1058.50 620.4V632.1M1061.50 606.6V634.0M1062.50 631.0V637.3M1064.50 627.7V657.1M1069.50 622.2V634.5M1071.50 624.2V626.8M1076.50 591.8V605.4M1078.50 596.1V602.7M1079.50 596.8V630.4M1080.50 626.2V631.4M1081.50 625.5V639.7M1083.50 623.1V641.4M1084.50 631.5V646.2M1086.50 631.9V647.0M1087.50 640.4V651.8M1088.50 642.2V658.3M1090.50 653.9V683.8M1091.50 667.7V681.0M1094.50 646.9V655.2M1095.50 646.6V652.7M1099.50 617.6V640.3M1101.50 622.3V634.2M1105.50 603.9V619.4M1109.50 598.1V609.4M1114.50 578.1V584.0M1116.50 574.3V588.5M1117.50 583.7V604.9M1119.50 599.5V621.0M1120.50 615.1V619.4M1122.50 605.1V613.8M1126.50 601.1V624.7M1128.50 611.2V627.5M1129.50 619.1V636.4M1132.50 589.2V610.0M1141.50 556.3V566.7M1142.50 560.8V574.6M1143.50 570.4V578.0M1145.50 563.0V570.4M1146.50 559.5V576.2M1149.50 548.3V566.4M1151.50 524.7V544.0M1152.50 533.0V545.6M1153.50 539.4V546.4M1155.50 538.4V558.3M1157.50 553.7V569.3M1158.50 565.0V576.1M1168.50 380.4V407.5M1171.50 392.7V413.2M1173.50 394.0V407.3M1179.50 319.9V326.8M1180.50 324.1V331.3M1181.50 328.1V347.8M1182.50 337.4V394.0M1183.50 358.3V378.7M1187.50 351.3V358.1M1195.50 277.5V291.9M1196.50 291.2V336.3M1197.50 325.8V333.0M1200.50 316.9V337.5M1202.50 311.8V319.6M1204.50 280.4V310.4M1208.50 264.2V316.2M1209.50 304.4V333.1M1210.50 312.7V342.7M1212.50 320.0V383.3M1214.50 337.5V351.8M1215.50 350.7V366.3M1217.50 319.8V366.1M1221.50 336.8V350.0M1222.50 338.7V387.2M1224.50 345.2V385.1M1228.50 346.6V369.0M1231.50 319.7V351.5M1233.50 324.7V372.8M1236.50 337.3V371.9M1238.50 353.5V405.9M1244.50 300.8V310.7M1246.50 251.9V306.9M1250.50 274.5V300.5M1251.50 274.8V301.9M1254.50 284.0V301.2M1257.50 279.8V340.5M1260.50 271.6V303.9M1261.50 285.9V311.5M1262.50 304.7V348.0M1265.50 305.3V337.2M1267.50 323.9V343.2M1269.50 318.1V353.1M1270.50 334.5V349.9M1274.50 337.9V353.5M1275.50 337.9V360.6M1279.50 339.8V354.1M1280.50 346.0V361.7M1284.50 340.4V354.8M1287.50 344.5V374.1M1288.50 368.8V393.1M1289.50 386.9V428.4M1290.50 422.2V432.0M1291.50 428.7V489.1M1294.50 420.3V443.1M1296.50 400.5V415.7M1299.50 378.6V428.2M1301.50 412.2V429.8M1302.50 421.2V437.3M1303.50 430.3V443.8M1304.50 437.1V488.0M1310.50 432.6V437.0M1311.50 429.1V443.5M1313.50 424.5V460.4M1316.50 440.2V453.4M1319.50 419.5V429.0M1321.50 413.2V427.0M1323.50 417.8V427.9M1324.50 416.6V425.5M1325.50 423.4V459.3M1327.50 436.1V458.9M1331.50 435.7V446.9M1332.50 443.7V461.1M1334.50 448.0V457.8M1335.50 454.8V485.2M1338.50 470.2V483.5M1345.50 433.6V437.3M1346.50 435.1V444.7M1348.50 419.5V440.3M1350.50 433.5V442.7M1355.50 364.1V380.2M1359.50 368.6V374.0M1362.50 363.0V372.2M1367.50 348.3V368.4M1369.50 353.4V372.9M1377.50 282.7V291.8M1379.50 285.2V301.6M1381.50 292.5V306.8M1383.50 292.4V299.1M1386.50 264.4V269.5M1390.50 243.3V264.4M1392.50 242.0V250.5M1393.50 245.9V257.9M1396.50 253.7V278.3M1397.50 264.9V284.4M1398.50 270.7V294.3M1399.50 285.1V297.1M1403.50 264.3V286.1M1404.50 281.9V319.5M1406.50 281.4V290.9M1411.50 259.6V268.5M1413.50 255.6V282.7M1414.50 272.9V306.4M1418.50 266.1V292.0M1419.50 282.2V298.6M1422.50 275.4V281.1M1425.50 269.1V286.2M1427.50 262.1V277.9M1429.50 246.9V278.0M1432.50 261.6V266.9M1435.50 254.2V284.8M1440.50 243.5V253.7M1441.50 249.7V258.6M1442.50 254.8V272.5M1449.50 147.4V181.1M1450.50 172.4V202.8M1451.50 176.3V194.2M1457.50 166.2V184.7M1459.50 152.8V179.4M1462.50 162.3V198.8M1464.50 178.0V187.7M1466.50 160.0V188.8M1468.50 171.3V200.5M1470.50 183.1V204.0M1471.50 194.7V232.4M1475.50 193.4V222.3M1477.50 207.7V214.9M1479.50 185.7V197.3M1481.50 153.4V198.1M1485.50 137.5V175.0M1486.50 168.3V189.7M1488.50 172.8V188.7M1490.50 184.3V197.8M1491.50 187.5V206.6M1492.50 193.5V219.9M1493.50 214.1V234.4M1495.50 190.1V215.7M1498.50 197.2V220.8M1499.50 213.8V256.1M1502.50 219.7V247.1M1503.50 242.7V267.0M1506.50 246.4V253.0M1509.50 226.3V245.6M1510.50 234.6V246.9M1514.50 228.1V242.0M1519.50 204.3V213.1M1521.50 194.2V208.8M1527.50 192.1V203.2M1529.50 198.9V210.5M1530.50 200.7V213.8M1531.50 210.8V217.3M1532.50 207.0V240.0M1534.50 238.7V244.0M1535.50 239.6V258.1M1539.50 214.5V224.8M1545.50 143.1V156.5M1548.50 127.2V141.0M1549.50 132.5V157.3M1550.50 156.2V169.1M1551.50 160.3V270.0M1552.50 211.9V219.6M1553.50 203.2V225.7M1556.50 219.5V228.3M1557.50 224.4V231.2M1558.50 219.9V256.8M1560.50 254.4V276.9M1561.50 255.6V267.7M1566.50 220.2V255.7M1570.50 218.4V236.3M1574.50 216.5V242.7M1578.50 228.6V251.0M1579.50 240.8V275.9M1580.50 275.6V281.7M1581.50 275.4V299.6M1582.50 290.9V312.8M1585.50 290.4V304.8M1587.50 268.9V281.5M1589.50 271.0V297.2M1590.50 284.9V318.1M1592.50 310.0V365.1M1594.50 342.1V352.7M1595.50 347.1V377.5M1596.50 375.9V386.7M1597.50 382.3V404.1M1599.50 395.5V410.3M1600.50 406.3V471.7M1601.50 425.7V446.5M1609.50 382.7V410.4M1610.50 390.9V446.0M1614.50 377.1V406.0M1616.50 375.3V392.9M1617.50 382.6V416.4M1621.50 380.0V394.7M1624.50 372.0V399.8M1626.50 390.0V416.4M1629.50 404.2V431.3M1631.50 420.2V441.1M1632.50 418.0V426.5M1636.50 395.5V415.8M1637.50 402.9V414.7M1639.50 408.1V420.2M1641.50 406.5V423.4M1644.50 412.9V423.5M1653.50 370.1V377.5M1654.50 375.2V401.7M1657.50 383.3V418.0M1665.50 352.1V367.9M1668.50 354.8V383.8M1669.50 373.9V420.3M1672.50 396.5V411.9M1674.50 398.6V414.3M1676.50 399.5V408.8M1677.50 396.6V414.3M1680.50 398.6V416.7" stroke="#f23645" stroke-width="1"/>
<path d="M125.00 864.0V865.1M126.00 862.8V864.0M128.00 860.0V868.2M129.00 846.6V860.0M132.00 850.5V854.6M136.00 851.2V863.0M139.00 851.3V852.9M141.00 855.4V859.0M143.00 861.7V862.8M149.00 917.5V928.2M154.00 932.7V938.9M155.00 927.4V932.7M156.00 925.7V927.4M158.00 928.3V929.3M160.00 926.0V928.3M161.00 923.2V926.0M168.00 935.4V936.5M170.00 934.4V939.4M171.00 932.6V934.4M172.00 930.3V932.6M173.00 925.2V930.3M175.00 921.9V925.2M179.00 930.9V932.3M183.00 932.1V937.2M184.00 928.8V932.1M186.00 918.6V929.6M187.00 915.3V918.6M189.00 904.6V915.3M191.00 904.9V913.9M194.00 913.6V915.2M197.00 917.7V922.5M198.00 909.9V917.7M199.00 907.4V909.9M200.00 900.7V907.4M201.00 898.6V900.7M205.00 900.7V909.6M207.00 912.2V915.3M208.00 910.3V912.2M209.00 899.8V910.3M214.00 896.0V906.7M216.00 896.3V898.0M218.00 892.0V896.3M222.00 902.0V905.5M226.00 922.4V923.6M227.00 917.8V922.4M228.00 913.4V917.8M233.00 925.9V929.8M235.00 933.1V937.6M236.00 931.7V933.1M237.00 926.9V931.7M241.00 935.3V937.0M242.00 934.8V935.8M243.00 932.5V934.8M247.00 932.7V940.0M248.00 927.5V932.7M249.00 923.4V927.5M250.00 919.8V923.4M251.00 914.6V919.8M255.00 932.6V934.1M256.00 930.4V932.6M259.00 935.9V939.5M264.00 939.4V941.4M265.00 937.4V939.4M267.00 938.0V939.0M269.00 937.6V938.6M270.00 936.4V937.6M271.00 932.0V936.4M273.00 934.2V940.3M274.00 931.6V934.2M277.00 934.5V935.5M279.00 930.9V937.2M285.00 936.6V945.9M288.00 936.5V940.0M289.00 933.6V936.5M291.00 932.7V933.7M295.00 936.3V943.6M298.00 937.4V941.3M299.00 930.8V937.4M300.00 930.5V931.5M302.00 931.1V933.2M303.00 923.7V931.1M306.00 924.4V927.6M309.00 928.0V931.6M310.00 927.0V928.0M313.00 925.7V928.8M315.00 925.7V926.7M321.00 958.0V961.3M322.00 957.5V958.5M323.00 957.0V958.0M327.00 958.9V959.9M328.00 957.4V958.9M333.00 962.2V963.2M335.00 960.5V962.2M336.00 959.7V960.7M337.00 959.6V960.6M338.00 959.2V960.2M340.00 959.8V960.8M343.00 959.4V960.4M344.00 953.5V959.4M346.00 952.8V954.1M349.00 953.9V954.9M350.00 953.6V954.6M352.00 953.5V954.5M354.00 954.3V955.5M356.00 951.8V954.3M358.00 951.3V953.1M359.00 944.8V951.3M364.00 955.6V959.8M366.00 955.1V958.8M372.00 954.6V959.1M374.00 954.9V957.9M379.00 959.2V960.5M380.00 958.0V959.2M382.00 957.6V958.6M383.00 957.0V958.0M385.00 955.0V957.0M387.00 955.1V956.3M388.00 954.8V955.8M389.00 953.7V954.8M390.00 951.6V953.7M391.00 947.9V951.6M393.00 947.3V948.3M394.00 938.7V947.3M395.00 933.2V938.7M396.00 927.0V933.2M397.00 923.6V927.0M398.00 919.9V923.6M401.00 924.0V925.6M402.00 912.3V924.0M404.00 910.1V912.9M407.00 911.5V914.6M408.00 908.4V911.5M411.00 910.7V914.5M412.00 906.9V910.7M415.00 904.0V908.8M417.00 906.2V907.2M418.00 905.5V906.5M426.00 918.2V919.2M429.00 920.2V921.2M430.00 915.3V920.2M432.00 910.9V917.1M433.00 897.4V910.9M434.00 897.0V898.0M437.00 898.2V902.9M438.00 895.6V898.2M442.00 906.8V909.9M445.00 910.2V911.2M446.00 908.4V910.2M447.00 906.2V908.4M448.00 899.8V906.2M452.00 910.2V913.3M454.00 916.1V918.5M460.00 931.8V932.8M461.00 922.0V931.8M462.00 904.0V922.0M463.00 894.2V904.0M466.00 890.7V897.3M467.00 878.3V890.7M469.00 873.7V880.5M470.00 873.5V874.5M471.00 866.9V873.5M481.00 871.6V879.9M482.00 863.9V871.6M484.00 863.9V864.9M488.00 864.4V872.0M490.00 874.1V876.8M491.00 869.9V874.1M492.00 869.0V870.0M493.00 868.1V869.1M495.00 861.3V868.1M496.00 857.5V861.3M498.00 852.6V858.6M502.00 851.3V858.6M504.00 850.6V858.4M510.00 874.4V879.3M512.00 871.3V876.7M513.00 864.9V871.3M516.00 858.7V865.6M517.00 856.2V858.7M520.00 869.1V871.1M521.00 860.8V869.1M522.00 858.5V860.8M526.00 865.4V867.9M533.00 876.8V882.4M535.00 881.1V883.0M536.00 880.2V881.2M538.00 879.9V880.9M540.00 877.2V880.0M542.00 880.0V881.9M543.00 879.1V880.1M546.00 881.2V882.2M547.00 880.9V881.9M548.00 878.3V880.9M550.00 870.1V879.4M558.00 876.8V882.8M560.00 874.8V876.8M563.00 880.7V886.7M565.00 885.3V886.6M569.00 885.2V888.5M571.00 889.0V890.0M572.00 887.2V889.0M573.00 883.9V887.2M575.00 879.9V883.9M577.00 875.6V880.3M578.00 859.1V875.6M579.00 855.3V859.1M580.00 853.6V855.3M583.00 849.7V854.4M585.00 855.9V857.4M586.00 852.4V855.9M590.00 852.6V854.8M591.00 849.1V852.6M597.00 854.5V857.1M598.00 851.4V854.5M600.00 852.6V861.1M602.00 849.2V855.3M604.00 848.2V849.2M609.00 851.6V860.0M613.00 853.4V860.4M618.00 856.5V861.0M620.00 861.5V862.5M623.00 861.9V866.3M626.00 858.4V866.2M630.00 861.6V865.5M631.00 857.2V861.6M635.00 856.0V860.6M640.00 858.3V863.4M642.00 862.2V863.9M643.00 860.2V862.2M649.00 885.8V886.8M650.00 884.3V885.8M651.00 884.0V885.0M653.00 886.3V887.3M655.00 880.5V886.3M657.00 884.7V887.2M658.00 877.0V884.7M659.00 876.3V877.3M665.00 887.3V891.5M666.00 887.2V888.2M667.00 886.8V887.8M669.00 886.8V887.8M670.00 883.7V886.8M673.00 883.9V888.5M676.00 884.2V888.9M677.00 882.3V884.2M679.00 884.5V885.9M680.00 876.8V884.5M682.00 875.4V878.8M688.00 884.1V885.1M689.00 882.5V884.1M692.00 884.3V885.3M693.00 879.0V884.3M694.00 876.9V879.0M696.00 876.5V881.0M698.00 871.9V876.5M701.00 873.5V874.5M702.00 870.6V873.5M705.00 871.2V874.1M707.00 877.0V878.2M710.00 880.8V883.2M711.00 876.4V880.8M713.00 872.7V876.4M714.00 866.8V872.7M715.00 865.4V866.8M717.00 864.5V866.9M718.00 856.1V864.5M720.00 850.7V856.1M721.00 849.3V850.7M722.00 823.0V849.3M724.00 821.4V827.3M725.00 819.4V821.4M728.00 822.6V824.7M731.00 826.1V828.8M732.00 820.4V826.1M735.00 819.5V821.4M736.00 814.5V819.5M738.00 817.1V822.3M740.00 806.0V817.3M742.00 804.9V806.0M743.00 799.9V804.9M745.00 800.2V803.7M747.00 804.4V809.2M751.00 803.1V810.5M754.00 802.9V807.1M756.00 795.7V802.9M758.00 795.7V798.4M759.00 792.7V795.7M761.00 797.3V802.8M762.00 796.0V797.3M765.00 796.2V798.5M766.00 794.8V796.2M767.00 780.3V794.8M769.00 779.8V780.8M771.00 768.1V779.8M772.00 746.3V768.1M775.00 746.6V755.4M782.00 762.0V767.7M784.00 760.6V762.8M787.00 758.3V766.6M788.00 755.5V758.3M789.00 742.7V755.5M794.00 749.9V753.1M796.00 747.7V758.9M801.00 762.9V765.3M802.00 756.9V762.9M803.00 744.5V756.9M807.00 755.0V762.6M809.00 742.5V755.8M810.00 736.6V742.5M811.00 731.2V736.6M812.00 719.3V731.2M819.00 757.7V769.3M823.00 771.2V774.6M824.00 770.0V771.2M826.00 772.1V773.9M830.00 773.5V783.9M832.00 767.7V777.0M833.00 760.1V767.7M834.00 755.3V760.1M836.00 753.1V755.3M838.00 754.6V755.9M840.00 757.9V761.4M844.00 753.5V767.5M845.00 751.5V753.5M846.00 744.8V751.5M847.00 718.2V744.8M848.00 715.6V718.2M851.00 707.4V722.5M852.00 705.6V707.4M853.00 693.6V705.6M855.00 686.3V697.4M859.00 687.5V698.0M860.00 684.7V687.5M863.00 691.2V696.0M866.00 697.1V699.9M867.00 687.4V697.1M868.00 658.8V687.4M869.00 634.3V658.8M870.00 596.6V634.3M874.00 600.6V614.7M875.00 599.9V600.9M876.00 582.9V599.9M877.00 572.4V582.9M881.00 564.6V578.3M883.00 546.3V565.7M884.00 525.9V546.3M890.00 565.1V566.5M892.00 582.4V590.7M895.00 577.7V591.1M897.00 587.4V588.4M899.00 564.1V597.6M900.00 545.9V564.1M902.00 535.1V545.9M904.00 547.5V553.0M905.00 541.0V547.5M907.00 545.3V548.9M910.00 574.6V576.0M912.00 570.7V578.6M913.00 553.7V570.7M916.00 543.6V558.5M918.00 543.9V558.3M925.00 592.4V604.8M927.00 594.1V601.9M931.00 588.5V602.6M932.00 576.3V588.5M933.00 567.5V576.3M935.00 589.9V591.2M940.00 609.7V616.0M941.00 609.6V610.6M943.00 636.2V637.9M944.00 617.9V636.2M946.00 607.2V617.9M948.00 598.3V613.4M951.00 616.5V618.8M955.00 616.8V625.9M956.00 614.2V616.8M957.00 599.3V614.2M958.00 591.9V599.3M960.00 579.6V591.9M963.00 569.9V584.2M964.00 561.9V569.9M965.00 540.8V561.9M968.00 554.2V561.7M970.00 552.9V558.7M973.00 570.6V580.6M975.00 570.2V571.2M976.00 569.9V570.9M979.00 567.9V576.6M980.00 556.6V567.9M983.00 552.2V558.7M984.00 536.4V552.2M989.00 560.6V563.8M990.00 559.9V560.9M997.00 575.7V588.3M1002.00 602.5V603.9M1004.00 601.3V602.5M1007.00 616.0V619.0M1011.00 616.9V622.6M1012.00 615.8V616.9M1014.00 614.0V616.7M1019.00 659.5V668.0M1020.00 655.4V659.5M1021.00 645.2V655.4M1022.00 644.3V645.3M1026.00 631.0V652.3M1028.00 623.2V640.8M1029.00 606.6V623.2M1030.00 580.7V606.6M1033.00 592.0V602.8M1034.00 579.7V592.0M1035.00 578.3V579.7M1036.00 570.4V578.3M1037.00 568.6V570.4M1041.00 570.1V586.7M1043.00 569.0V587.4M1044.00 565.5V569.0M1048.00 581.9V586.9M1056.00 635.1V668.7M1057.00 625.9V635.1M1060.00 612.7V626.6M1064.00 627.8V633.9M1066.00 626.5V645.2M1067.00 624.1V626.5M1069.00 623.7V624.7M1071.00 625.2V633.6M1073.00 608.8V626.2M1074.00 601.0V608.8M1076.00 596.6V601.0M1078.00 598.3V605.0M1086.00 637.0V645.7M1093.00 670.3V677.5M1094.00 650.9V670.3M1098.00 639.5V652.7M1099.00 621.4V639.5M1101.00 630.2V637.0M1103.00 610.0V631.1M1104.00 608.9V610.0M1107.00 605.3V617.2M1108.00 602.4V605.3M1109.00 598.7V602.4M1111.00 602.7V608.6M1113.00 601.8V602.8M1114.00 582.3V601.8M1116.00 574.3V583.4M1122.00 607.2V616.5M1124.00 613.3V614.3M1125.00 608.3V613.3M1128.00 611.5V618.1M1131.00 620.6V629.7M1132.00 596.6V620.6M1135.00 593.6V602.7M1136.00 574.8V593.6M1137.00 564.4V574.8M1138.00 561.9V564.4M1139.00 561.5V562.5M1140.00 557.8V561.5M1145.00 568.9V578.0M1149.00 556.8V575.2M1151.00 536.1V558.4M1157.00 554.1V557.9M1160.00 557.8V570.3M1161.00 525.9V557.8M1162.00 521.9V525.9M1164.00 487.0V521.9M1165.00 482.0V487.0M1166.00 478.6V482.0M1167.00 411.3V478.6M1168.00 384.2V411.3M1171.00 395.3V406.9M1173.00 402.5V404.8M1175.00 399.1V405.3M1176.00 366.9V399.1M1178.00 332.3V366.9M1179.00 319.9V332.3M1186.00 358.9V376.4M1187.00 351.6V358.9M1189.00 351.1V355.1M1190.00 346.3V351.1M1191.00 345.6V346.6M1193.00 331.0V345.6M1194.00 323.1V331.0M1195.00 277.5V323.1M1200.00 320.0V332.9M1202.00 315.4V333.3M1204.00 285.8V318.4M1207.00 288.5V301.9M1208.00 273.7V288.5M1212.00 320.8V339.3M1217.00 327.5V356.5M1219.00 352.8V354.6M1220.00 338.1V352.8M1224.00 352.7V383.0M1226.00 365.7V385.1M1227.00 347.5V365.7M1230.00 346.1V362.3M1231.00 322.8V346.1M1233.00 325.4V337.0M1236.00 352.7V371.0M1238.00 358.2V369.3M1240.00 363.4V373.9M1241.00 360.0V363.4M1242.00 323.0V360.0M1244.00 308.8V323.0M1246.00 296.3V310.0M1248.00 294.2V299.0M1249.00 282.3V294.2M1253.00 292.3V296.6M1254.00 284.8V292.3M1256.00 280.1V301.2M1259.00 310.7V314.6M1260.00 271.6V310.7M1264.00 312.2V331.6M1267.00 329.4V335.6M1269.00 333.2V337.2M1273.00 348.6V349.6M1274.00 342.6V348.6M1277.00 352.3V358.2M1278.00 343.0V352.3M1282.00 357.7V358.7M1283.00 350.5V357.7M1284.00 340.6V350.5M1287.00 348.7V350.9M1293.00 422.5V448.9M1296.00 401.8V434.8M1298.00 407.6V410.5M1299.00 406.2V407.6M1306.00 475.7V480.3M1307.00 466.0V475.7M1309.00 455.9V466.0M1310.00 434.0V455.9M1313.00 429.7V442.3M1316.00 443.3V458.3M1318.00 425.2V451.7M1319.00 421.9V425.2M1321.00 413.9V426.5M1327.00 437.9V452.1M1329.00 448.1V453.3M1331.00 439.7V448.1M1334.00 454.3V457.4M1338.00 473.6V480.8M1340.00 469.8V482.2M1341.00 457.7V469.8M1342.00 454.5V457.7M1343.00 436.1V454.5M1344.00 435.8V436.8M1348.00 427.4V442.8M1350.00 435.3V439.4M1353.00 427.1V441.9M1354.00 390.7V427.1M1355.00 373.5V390.7M1357.00 372.3V379.4M1358.00 369.2V372.3M1361.00 365.4V369.7M1362.00 364.9V365.9M1364.00 365.2V371.2M1365.00 362.4V365.2M1367.00 350.9V362.4M1369.00 354.5V362.1M1371.00 346.1V365.4M1372.00 323.4V346.1M1373.00 320.3V323.4M1375.00 291.3V320.3M1376.00 288.0V291.3M1377.00 286.4V288.0M1379.00 289.0V290.0M1383.00 296.0V304.3M1385.00 284.4V296.9M1386.00 267.0V284.4M1389.00 256.3V267.7M1390.00 245.2V256.3M1392.00 244.7V262.8M1396.00 254.3V255.3M1401.00 272.6V294.1M1402.00 268.3V272.6M1406.00 283.7V294.5M1408.00 285.4V290.1M1409.00 270.9V285.4M1411.00 262.0V270.9M1413.00 259.8V262.1M1416.00 289.5V299.7M1418.00 271.9V289.5M1421.00 282.2V289.6M1422.00 278.8V282.2M1424.00 274.5V279.3M1427.00 270.2V280.3M1429.00 250.5V273.3M1431.00 262.1V275.8M1434.00 262.4V266.1M1435.00 255.2V262.4M1437.00 262.6V271.4M1438.00 254.5V262.6M1440.00 244.1V254.5M1444.00 247.9V269.9M1445.00 217.9V247.9M1447.00 204.5V217.9M1448.00 186.1V204.5M1449.00 167.4V186.1M1453.00 182.1V189.5M1455.00 178.3V182.1M1456.00 171.3V178.3M1457.00 166.4V171.3M1459.00 163.7V180.8M1462.00 171.9V178.3M1464.00 179.5V196.6M1466.00 166.2V187.6M1470.00 184.6V193.0M1473.00 206.0V222.8M1474.00 195.5V206.0M1477.00 210.8V218.5M1479.00 187.9V214.2M1481.00 184.9V196.4M1484.00 184.7V194.7M1485.00 160.5V184.7M1488.00 175.5V185.6M1495.00 198.2V225.8M1498.00 204.8V205.8M1501.00 230.4V235.2M1502.00 220.6V230.4M1506.00 248.1V250.4M1508.00 234.7V248.3M1509.00 232.7V234.7M1513.00 233.1V245.0M1514.00 229.8V233.1M1516.00 230.9V238.6M1517.00 226.4V230.9M1518.00 204.5V226.4M1521.00 200.2V212.7M1523.00 204.9V206.7M1524.00 197.3V204.9M1525.00 193.8V197.3M1527.00 192.6V193.8M1529.00 199.7V201.9M1537.00 231.1V247.4M1538.00 226.6V231.1M1539.00 219.8V226.6M1542.00 199.1V224.3M1543.00 182.3V199.1M1544.00 175.3V182.3M1545.00 144.5V175.3M1547.00 132.3V145.8M1555.00 221.1V222.9M1560.00 255.0V256.0M1564.00 253.1V267.1M1565.00 241.8V253.1M1566.00 225.0V241.8M1568.00 243.5V250.8M1569.00 223.5V243.5M1572.00 222.9V232.9M1573.00 218.5V222.9M1574.00 216.8V218.5M1576.00 240.6V241.6M1578.00 235.1V240.6M1584.00 292.1V312.3M1587.00 268.9V298.5M1589.00 271.0V281.3M1594.00 347.4V355.6M1603.00 431.2V446.5M1604.00 416.0V431.2M1605.00 408.9V416.0M1607.00 406.1V408.9M1608.00 400.9V406.1M1609.00 384.3V400.9M1612.00 384.6V403.4M1613.00 377.1V384.6M1616.00 375.3V402.2M1619.00 391.2V396.5M1620.00 384.0V391.2M1623.00 376.9V392.5M1624.00 375.9V376.9M1626.00 395.1V396.4M1629.00 408.0V412.8M1631.00 420.6V429.2M1634.00 405.6V426.5M1635.00 395.5V405.6M1639.00 408.9V410.8M1641.00 413.8V419.9M1644.00 414.5V422.0M1646.00 410.7V418.8M1647.00 407.2V410.7M1648.00 405.2V407.2M1649.00 393.4V405.2M1651.00 390.8V393.4M1652.00 389.6V390.8M1653.00 371.5V389.6M1656.00 384.2V397.9M1659.00 409.1V410.1M1660.00 403.4V409.1M1661.00 389.0V403.4M1662.00 363.1V389.0M1663.00 355.9V363.1M1664.00 355.9V356.9M1667.00 362.2V363.3M1668.00 355.7V362.2M1671.00 397.9V402.4M1674.00 400.0V410.7M1676.00 400.1V406.4M1680.00 411.9V413.8" stroke="#089981" stroke-width="2"/>
<path d="M127.00 862.8V868.2M131.00 846.6V854.6M133.00 850.5V856.7M134.00 856.7V857.7M135.00 857.7V863.0M138.00 851.2V852.9M140.00 851.3V859.0M142.00 855.4V862.8M145.00 861.7V871.2M146.00 871.2V891.8M147.00 891.8V911.2M148.00 911.2V928.2M150.00 917.5V925.4M151.00 925.4V929.7M153.00 929.7V938.9M157.00 925.7V929.0M162.00 923.2V925.3M163.00 925.3V929.1M164.00 929.1V930.1M165.00 930.0V935.3M167.00 935.3V936.5M169.00 935.4V939.4M176.00 921.9V923.8M177.00 923.8V926.4M178.00 926.4V932.3M180.00 930.9V936.3M182.00 936.3V937.3M185.00 928.8V929.8M190.00 904.6V913.9M192.00 904.9V910.3M193.00 910.3V915.2M196.00 913.6V922.5M202.00 898.6V900.6M204.00 900.6V909.6M206.00 900.7V915.3M211.00 899.8V905.5M212.00 905.5V906.5M213.00 906.4V907.4M215.00 896.0V898.0M219.00 892.0V893.7M220.00 893.7V899.6M221.00 899.6V905.5M223.00 902.0V909.4M225.00 909.4V923.6M229.00 913.4V917.5M230.00 917.5V918.8M231.00 918.8V929.8M234.00 925.9V937.6M238.00 926.9V930.9M240.00 930.9V937.0M244.00 932.5V939.1M245.00 939.1V940.1M252.00 914.6V916.3M253.00 916.3V934.1M257.00 930.4V931.4M258.00 931.4V939.5M260.00 935.9V938.0M262.00 938.0V939.0M263.00 938.2V941.4M266.00 937.4V938.4M272.00 932.0V940.3M276.00 931.6V935.5M278.00 934.5V937.2M280.00 930.9V935.2M281.00 935.2V939.6M282.00 939.6V941.3M284.00 941.3V945.9M286.00 936.6V938.6M287.00 938.6V940.0M292.00 932.7V935.2M293.00 935.2V937.5M294.00 937.5V943.6M296.00 936.3V941.3M301.00 930.5V933.2M305.00 923.7V927.6M307.00 924.4V927.9M308.00 927.9V931.6M311.00 927.0V928.8M314.00 925.7V926.7M316.00 925.7V929.0M317.00 929.0V939.3M318.00 939.3V955.5M320.00 955.5V961.3M324.00 957.0V958.0M325.00 957.7V959.0M329.00 957.4V958.6M330.00 958.6V959.6M331.00 959.3V960.8M332.00 960.8V963.1M339.00 959.2V960.8M342.00 959.8V960.8M345.00 953.5V954.5M347.00 952.8V954.1M351.00 953.6V954.6M353.00 953.5V955.5M357.00 951.8V953.1M360.00 944.8V950.3M361.00 950.3V955.7M362.00 955.7V959.8M365.00 955.6V958.8M367.00 955.1V956.1M368.00 955.7V956.7M369.00 956.7V957.7M371.00 957.4V959.1M373.00 954.6V957.9M375.00 954.9V958.2M376.00 958.2V959.2M378.00 958.6V960.5M381.00 958.0V959.0M386.00 955.0V956.3M400.00 919.9V925.6M403.00 912.3V913.3M405.00 910.1V914.6M409.00 908.4V909.4M410.00 909.2V914.5M413.00 906.9V908.8M416.00 904.0V906.3M419.00 905.5V906.5M420.00 906.5V907.8M422.00 907.8V909.1M423.00 909.1V910.1M424.00 910.0V912.0M425.00 912.0V918.7M427.00 918.2V920.4M431.00 915.3V917.1M436.00 897.0V902.9M439.00 895.6V901.6M440.00 901.6V905.1M441.00 905.1V909.9M444.00 906.8V910.7M449.00 899.8V911.9M451.00 911.9V913.3M453.00 910.2V918.5M455.00 916.1V919.9M456.00 919.9V921.2M458.00 921.2V930.7M459.00 930.7V932.8M465.00 894.2V897.3M468.00 878.3V880.5M473.00 866.9V869.8M474.00 869.8V871.3M475.00 871.3V872.3M476.00 871.9V873.9M477.00 873.9V877.3M478.00 877.3V878.3M480.00 877.5V879.9M483.00 863.9V864.9M485.00 863.9V867.7M487.00 867.7V872.0M489.00 864.4V876.8M497.00 857.5V858.6M499.00 852.6V854.2M500.00 854.2V858.6M503.00 851.3V858.4M505.00 850.6V866.4M506.00 866.4V868.6M507.00 868.6V874.4M509.00 874.4V879.3M511.00 874.4V876.7M514.00 864.9V865.9M518.00 856.2V867.9M519.00 867.9V871.1M524.00 858.5V867.5M525.00 867.5V868.5M527.00 865.4V870.7M528.00 870.7V871.7M529.00 871.3V876.7M531.00 876.7V880.2M532.00 880.2V882.4M534.00 876.8V883.0M539.00 879.9V880.9M541.00 877.2V881.9M545.00 879.1V881.6M549.00 878.3V879.4M551.00 870.1V875.7M553.00 875.7V876.7M554.00 876.3V878.7M555.00 878.7V879.7M556.00 878.8V881.7M557.00 881.7V882.8M561.00 874.8V883.8M562.00 883.8V886.7M564.00 880.7V886.6M567.00 885.3V886.4M568.00 886.4V888.5M570.00 885.2V890.0M576.00 879.9V880.9M582.00 853.6V854.6M584.00 849.7V857.4M587.00 852.4V854.8M589.00 854.8V855.8M592.00 849.1V851.1M593.00 851.1V852.8M594.00 852.8V853.8M596.00 852.9V857.1M599.00 851.4V861.1M601.00 852.6V855.3M605.00 848.2V853.8M606.00 853.8V854.8M607.00 854.0V857.9M608.00 857.9V860.0M611.00 851.6V852.6M612.00 852.6V860.4M614.00 853.4V858.3M615.00 858.3V860.6M616.00 860.6V861.6M619.00 856.5V861.8M621.00 861.5V866.3M622.00 866.3V867.3M625.00 861.9V866.2M627.00 858.4V859.4M628.00 859.3V864.9M629.00 864.9V865.9M633.00 857.2V859.5M634.00 859.5V860.6M636.00 856.0V857.0M637.00 856.9V857.9M638.00 857.3V863.4M641.00 858.3V863.9M644.00 860.2V877.4M645.00 877.4V882.8M647.00 882.8V883.9M648.00 883.9V885.9M652.00 884.0V886.8M656.00 880.5V887.2M660.00 876.3V880.3M662.00 880.3V884.2M663.00 884.2V890.7M664.00 890.7V891.7M671.00 883.7V888.0M672.00 888.0V889.0M674.00 883.9V888.9M678.00 882.3V885.9M681.00 876.8V878.8M684.00 875.4V882.1M685.00 882.1V883.1M686.00 883.0V884.8M687.00 884.8V885.8M691.00 882.5V884.7M695.00 876.9V881.0M699.00 871.9V872.9M700.00 872.4V874.5M703.00 870.6V874.1M706.00 871.2V878.2M708.00 877.0V881.9M709.00 881.9V883.2M716.00 865.4V866.9M723.00 823.0V827.3M727.00 819.4V824.7M729.00 822.6V823.6M730.00 823.0V828.8M733.00 820.4V821.4M737.00 814.5V822.3M739.00 817.1V818.1M744.00 799.9V803.7M746.00 800.2V809.2M749.00 804.4V805.4M750.00 805.4V810.5M752.00 803.1V806.5M753.00 806.5V807.5M757.00 795.7V798.4M760.00 792.7V802.8M764.00 796.0V798.5M768.00 780.3V781.3M773.00 746.3V752.3M774.00 752.3V755.4M776.00 746.6V749.8M778.00 749.8V760.7M779.00 760.7V763.6M780.00 763.6V764.6M781.00 763.8V767.7M783.00 762.0V763.0M786.00 760.6V766.6M790.00 742.7V748.9M791.00 748.9V749.9M793.00 748.9V753.1M795.00 749.9V758.9M797.00 747.7V757.4M798.00 757.4V758.4M800.00 757.9V765.3M804.00 744.5V759.8M805.00 759.8V762.6M808.00 755.0V756.0M813.00 719.3V720.3M815.00 719.7V739.3M816.00 739.3V757.3M817.00 757.3V767.7M818.00 767.7V769.3M820.00 757.7V761.2M822.00 761.2V774.6M825.00 770.0V773.9M827.00 772.1V781.8M829.00 781.8V783.9M831.00 773.5V777.0M837.00 753.1V755.9M839.00 754.6V761.4M841.00 757.9V761.6M842.00 761.6V767.5M849.00 715.6V722.5M854.00 693.6V697.4M856.00 686.3V690.1M858.00 690.1V698.0M861.00 684.7V695.0M862.00 695.0V696.0M864.00 691.2V699.9M871.00 596.6V614.4M873.00 614.4V615.4M878.00 572.4V574.6M880.00 574.6V578.3M882.00 564.6V565.7M885.00 525.9V527.1M887.00 527.1V535.0M888.00 535.0V547.4M889.00 547.4V566.5M891.00 565.1V590.7M893.00 582.4V591.1M896.00 577.7V587.7M898.00 587.4V597.6M903.00 535.1V553.0M906.00 541.0V548.9M909.00 545.3V576.0M911.00 574.6V578.6M914.00 553.7V558.5M917.00 543.6V558.3M919.00 543.9V556.2M920.00 556.2V577.5M921.00 577.5V590.8M922.00 590.8V595.4M924.00 595.4V604.8M926.00 592.4V601.9M928.00 594.1V601.6M929.00 601.6V602.6M934.00 567.5V591.2M936.00 589.9V600.3M938.00 600.3V608.2M939.00 608.2V616.0M942.00 609.6V637.9M947.00 607.2V613.4M949.00 598.3V601.0M950.00 601.0V618.8M953.00 616.5V621.5M954.00 621.5V625.9M961.00 579.6V581.3M962.00 581.3V584.2M967.00 540.8V561.7M969.00 554.2V558.7M971.00 552.9V563.9M972.00 563.9V580.6M977.00 569.9V571.5M978.00 571.5V576.6M982.00 556.6V558.7M985.00 536.4V556.4M986.00 556.4V560.7M987.00 560.7V563.8M991.00 559.9V563.0M992.00 563.0V564.0M993.00 563.7V573.3M994.00 573.3V583.5M996.00 583.5V588.3M998.00 575.7V586.8M999.00 586.8V595.3M1000.00 595.3V597.5M1001.00 597.5V603.9M1005.00 601.3V615.9M1006.00 615.9V619.0M1008.00 616.0V619.5M1009.00 619.5V622.6M1013.00 615.8V616.8M1015.00 614.0V630.3M1016.00 630.3V637.3M1018.00 637.3V668.0M1023.00 644.3V645.3M1024.00 645.3V652.3M1027.00 631.0V640.8M1031.00 580.7V602.8M1038.00 568.6V570.0M1040.00 570.0V586.7M1042.00 570.1V587.4M1045.00 565.5V571.1M1047.00 571.1V586.9M1049.00 581.9V595.8M1050.00 595.8V617.2M1051.00 617.2V628.1M1052.00 628.1V646.5M1053.00 646.5V660.3M1055.00 660.3V668.7M1058.00 625.9V626.9M1059.00 626.0V627.0M1062.00 612.7V632.7M1063.00 632.7V633.9M1065.00 627.8V645.2M1070.00 623.7V633.6M1072.00 625.2V626.2M1077.00 596.6V605.0M1079.00 598.3V601.2M1080.00 601.2V626.8M1081.00 626.8V629.7M1082.00 629.7V630.7M1084.00 630.6V632.9M1085.00 632.9V645.7M1087.00 637.0V642.5M1088.00 642.5V649.1M1089.00 649.1V655.8M1091.00 655.8V670.6M1092.00 670.6V677.5M1095.00 650.9V651.9M1096.00 651.9V652.9M1100.00 621.4V637.0M1102.00 630.2V631.2M1106.00 608.9V617.2M1110.00 598.7V608.6M1115.00 582.3V583.4M1117.00 574.3V588.3M1118.00 588.3V601.5M1120.00 601.5V615.2M1121.00 615.2V616.5M1123.00 607.2V613.5M1127.00 608.3V618.1M1129.00 611.5V624.5M1130.00 624.5V629.7M1133.00 596.6V602.7M1142.00 557.8V566.5M1143.00 566.5V574.1M1144.00 574.1V578.0M1146.00 568.9V569.9M1147.00 569.1V575.2M1150.00 556.8V558.4M1152.00 536.1V537.1M1153.00 536.8V540.4M1154.00 540.4V544.1M1156.00 544.1V557.9M1158.00 554.1V568.9M1159.00 568.9V570.3M1169.00 384.2V406.9M1172.00 395.3V404.8M1174.00 402.5V405.3M1180.00 319.9V324.1M1181.00 324.1V328.8M1182.00 328.8V338.4M1183.00 338.4V362.2M1184.00 362.2V376.4M1188.00 351.6V355.1M1196.00 277.5V291.2M1197.00 291.2V326.2M1198.00 326.2V332.9M1201.00 320.0V333.3M1203.00 315.4V318.4M1205.00 285.8V301.9M1209.00 273.7V308.6M1210.00 308.6V321.2M1211.00 321.2V339.3M1213.00 320.8V344.8M1215.00 344.8V351.3M1216.00 351.3V356.5M1218.00 327.5V354.6M1222.00 338.1V344.7M1223.00 344.7V383.0M1225.00 352.7V385.1M1229.00 347.5V362.3M1232.00 322.8V337.0M1234.00 325.4V371.0M1237.00 352.7V369.3M1239.00 358.2V373.9M1245.00 308.8V310.0M1247.00 296.3V299.0M1251.00 282.3V283.3M1252.00 283.3V296.6M1255.00 284.8V301.2M1258.00 280.1V314.6M1261.00 271.6V297.8M1262.00 297.8V311.5M1263.00 311.5V331.6M1266.00 312.2V335.6M1268.00 329.4V337.2M1270.00 333.2V342.2M1271.00 342.2V348.8M1275.00 342.6V347.5M1276.00 347.5V358.2M1280.00 343.0V351.1M1281.00 351.1V357.8M1285.00 340.6V350.9M1288.00 348.7V369.7M1289.00 369.7V390.5M1290.00 390.5V427.0M1291.00 427.0V430.0M1292.00 430.0V448.9M1295.00 422.5V434.8M1297.00 401.8V410.5M1300.00 406.2V418.5M1302.00 418.5V423.2M1303.00 423.2V437.1M1304.00 437.1V442.7M1305.00 442.7V480.3M1311.00 434.0V436.0M1312.00 436.0V442.3M1314.00 429.7V458.3M1317.00 443.3V451.7M1320.00 421.9V426.5M1322.00 413.9V422.2M1324.00 422.2V423.2M1325.00 423.0V425.0M1326.00 425.0V452.1M1328.00 437.9V453.3M1332.00 439.7V444.7M1333.00 444.7V457.4M1335.00 454.3V456.3M1336.00 456.3V480.8M1339.00 473.6V482.2M1346.00 435.8V436.8M1347.00 436.1V442.8M1349.00 427.4V439.4M1351.00 435.3V441.9M1356.00 373.5V379.4M1360.00 369.2V370.2M1363.00 364.9V371.2M1368.00 350.9V362.1M1370.00 354.5V365.4M1378.00 286.4V289.8M1380.00 289.0V300.2M1382.00 300.2V304.3M1384.00 296.0V297.0M1387.00 267.0V268.0M1391.00 245.2V262.8M1393.00 244.7V250.4M1394.00 250.4V254.3M1397.00 254.3V272.0M1398.00 272.0V281.2M1399.00 281.2V286.7M1400.00 286.7V294.1M1404.00 268.3V283.7M1405.00 283.7V294.5M1407.00 283.7V290.1M1412.00 262.0V263.0M1414.00 259.8V276.4M1415.00 276.4V299.7M1419.00 271.9V284.1M1420.00 284.1V289.6M1423.00 278.8V279.8M1426.00 274.5V280.3M1428.00 270.2V273.3M1430.00 250.5V275.8M1433.00 262.1V266.1M1436.00 255.2V271.4M1441.00 244.1V252.4M1442.00 252.4V257.0M1443.00 257.0V269.9M1450.00 167.4V177.1M1451.00 177.1V182.3M1452.00 182.3V189.5M1458.00 166.4V180.8M1460.00 163.7V178.3M1463.00 171.9V196.6M1465.00 179.5V187.6M1467.00 166.2V176.9M1469.00 176.9V193.0M1471.00 184.6V200.3M1472.00 200.3V222.8M1476.00 195.5V218.5M1478.00 210.8V214.2M1480.00 187.9V196.4M1482.00 184.9V194.7M1486.00 160.5V168.4M1487.00 168.4V185.6M1489.00 175.5V185.8M1491.00 185.8V194.7M1492.00 194.7V197.2M1493.00 197.2V214.3M1494.00 214.3V225.8M1496.00 198.2V205.3M1499.00 204.8V217.8M1500.00 217.8V235.2M1503.00 220.6V245.6M1504.00 245.6V250.4M1507.00 248.1V249.1M1510.00 232.7V240.9M1511.00 240.9V245.0M1515.00 229.8V238.6M1520.00 204.5V212.7M1522.00 200.2V206.7M1528.00 192.6V201.9M1530.00 199.7V205.0M1531.00 205.0V211.3M1532.00 211.3V215.9M1533.00 215.9V239.8M1535.00 239.8V242.1M1536.00 242.1V247.4M1540.00 219.8V224.3M1546.00 144.5V145.8M1549.00 132.3V137.0M1550.00 137.0V157.1M1551.00 157.1V162.1M1552.00 162.1V213.3M1553.00 213.3V214.7M1554.00 214.7V222.9M1557.00 221.1V226.6M1558.00 226.6V230.2M1559.00 230.2V255.4M1561.00 255.0V266.3M1562.00 266.3V267.3M1567.00 225.0V250.8M1571.00 223.5V232.9M1575.00 216.8V240.7M1579.00 235.1V242.6M1580.00 242.6V275.9M1581.00 275.9V281.7M1582.00 281.7V299.6M1583.00 299.6V312.3M1586.00 292.1V298.5M1588.00 268.9V281.3M1590.00 271.0V294.5M1591.00 294.5V310.1M1593.00 310.1V355.6M1595.00 347.4V351.2M1596.00 351.2V376.3M1597.00 376.3V386.6M1598.00 386.6V396.1M1600.00 396.1V408.4M1601.00 408.4V426.5M1602.00 426.5V446.5M1610.00 384.3V401.4M1611.00 401.4V403.4M1615.00 377.1V402.2M1617.00 375.3V392.1M1618.00 392.1V396.5M1622.00 384.0V392.5M1625.00 375.9V396.4M1627.00 395.1V412.8M1630.00 408.0V429.2M1632.00 420.6V421.6M1633.00 421.0V426.5M1637.00 395.5V408.9M1638.00 408.9V410.8M1640.00 408.9V419.9M1642.00 413.8V422.0M1645.00 414.5V418.8M1654.00 371.5V375.7M1655.00 375.7V397.9M1658.00 384.2V409.2M1666.00 355.9V363.3M1669.00 355.7V375.9M1670.00 375.9V402.4M1673.00 397.9V410.7M1675.00 400.0V406.4M1677.00 400.1V406.8M1678.00 406.8V413.8M1681.00 398.6V411.9" stroke="#f23645" stroke-width="2"/>
</g>
<path d="M1427.3 122.5L1663.3 757.8" stroke="#fa2a0c" stroke-width="4.6" fill="none"/>
<path d="M1669.7 775.1L1652.6 759.6L1672.5 752.2Z" fill="#fa2a0c"/>
<text x="139.93" y="59.60" font-size="24" fill="#0b0b0b" letter-spacing="-0.250">BITCOIN / USD, 1D, COINBASE</text>
<text x="496.46" y="59.60" font-size="24" fill="#0b0b0b" letter-spacing="0.000">O</text>
<text x="515.86" y="59.60" font-size="24" fill="#f23645" letter-spacing="0.751">89,162.40</text>
<text x="642.63" y="59.60" font-size="24" fill="#0b0b0b" letter-spacing="0.000">H</text>
<text x="660.56" y="59.60" font-size="24" fill="#f23645" letter-spacing="0.216">89,210.16</text>
<text x="782.63" y="59.60" font-size="24" fill="#0b0b0b" letter-spacing="0.000">L</text>
<text x="796.46" y="59.60" font-size="24" fill="#f23645" letter-spacing="0.879">87,548.86</text>
<text x="924.48" y="59.60" font-size="24" fill="#0b0b0b" letter-spacing="0.000">C</text>
<text x="941.86" y="59.60" font-size="24" fill="#f23645" letter-spacing="0.379">87,913.43</text>
<text x="1065.62" y="59.60" font-size="24" fill="#f23645" letter-spacing="0.357">−1,248.97</text>
<text x="1183.91" y="59.60" font-size="24" fill="#f23645" letter-spacing="0.589">(−1.40%)</text>
<text x="141.31" y="93.40" font-size="24" fill="#0b0b0b" letter-spacing="0.551">(Capriole.com) Bitcoin Treasuries Company Buyers (0)</text>
<text x="767.67" y="93.40" font-size="24" fill="#00bfff" letter-spacing="-0.076">1.03</text>
<text x="56.45" y="132.60" font-size="24" fill="#0b0b0b" letter-spacing="1.459">4.00</text>
<text x="56.09" y="236.27" font-size="24" fill="#0b0b0b" letter-spacing="1.580">3.50</text>
<text x="56.09" y="339.95" font-size="24" fill="#0b0b0b" letter-spacing="1.580">3.00</text>
<text x="55.79" y="443.62" font-size="24" fill="#0b0b0b" letter-spacing="1.678">2.50</text>
<text x="55.79" y="547.30" font-size="24" fill="#0b0b0b" letter-spacing="1.678">2.00</text>
<text x="55.17" y="650.98" font-size="24" fill="#0b0b0b" letter-spacing="1.885">1.50</text>
<text x="56.06" y="858.33" font-size="24" fill="#0b0b0b" letter-spacing="1.588">0.50</text>
<text x="56.06" y="962.00" font-size="24" fill="#0b0b0b" letter-spacing="1.588">0.00</text>
<path d="M47.8 722h74v34h-74a4 4 0 0 1-4-4v-26a4 4 0 0 1 4-4z" fill="#00bfff"/>
<path d="M123.9 722h224.1a4 4 0 0 1 4 4v26a4 4 0 0 1-4 4h-224.1z" fill="#00bfff"/>
<text x="56.77" y="747.20" font-size="24" fill="#0a0a0a" letter-spacing="1.191">1.03</text>
<text x="132.18" y="747.20" font-size="24" fill="#0a0a0a" letter-spacing="0.482">Companies Buyers</text>
<text x="1848.47" y="101.40" font-size="24" fill="#0b0b0b" letter-spacing="1.572">130,000.00</text>
<text x="1848.47" y="177.58" font-size="24" fill="#0b0b0b" letter-spacing="1.572">120,000.00</text>
<text x="1848.47" y="253.76" font-size="24" fill="#0b0b0b" letter-spacing="1.572">110,000.00</text>
<text x="1848.47" y="329.94" font-size="24" fill="#0b0b0b" letter-spacing="1.572">100,000.00</text>
<text x="1849.17" y="406.12" font-size="24" fill="#0b0b0b" letter-spacing="1.499">90,000.00</text>
<text x="1849.26" y="482.30" font-size="24" fill="#0b0b0b" letter-spacing="1.489">80,000.00</text>
<text x="1849.07" y="558.48" font-size="24" fill="#0b0b0b" letter-spacing="1.512">70,000.00</text>
<text x="1849.08" y="634.66" font-size="24" fill="#0b0b0b" letter-spacing="1.511">60,000.00</text>
<text x="1849.34" y="710.84" font-size="24" fill="#0b0b0b" letter-spacing="1.479">50,000.00</text>
<text x="1849.75" y="787.02" font-size="24" fill="#0b0b0b" letter-spacing="1.427">40,000.00</text>
<text x="1849.39" y="863.20" font-size="24" fill="#0b0b0b" letter-spacing="1.473">30,000.00</text>
<text x="1849.09" y="939.38" font-size="24" fill="#0b0b0b" letter-spacing="1.509">20,000.00</text>
<text x="1848.47" y="1015.56" font-size="24" fill="#0b0b0b" letter-spacing="1.587">10,000.00</text>
<path d="M1721.9 399h110v34h-110a4 4 0 0 1-4-4v-26a4 4 0 0 1 4-4z" fill="#f23645"/>
<path d="M1834 399h142.2a4 4 0 0 1 4 4v26a4 4 0 0 1-4 4h-142.2z" fill="#f23645"/>
<text x="1725.61" y="423.60" font-size="23" fill="#fff" letter-spacing="0.685">BTCUSD</text>
<text x="1847.86" y="423.20" font-size="24" fill="#fff" letter-spacing="1.679">87,913.43</text>
<text x="123.34" y="1090.00" font-size="24" fill="#0b0b0b" letter-spacing="1.922">un</text>
<text x="347.47" y="1090.00" font-size="24" fill="#0b0b0b" font-weight="700" letter-spacing="3.336">2023</text>
<text x="534.42" y="1090.00" font-size="24" fill="#0b0b0b" letter-spacing="0.719">Jun</text>
<text x="769.97" y="1090.00" font-size="24" fill="#0b0b0b" font-weight="700" letter-spacing="3.190">2024</text>
<text x="957.42" y="1090.00" font-size="24" fill="#0b0b0b" letter-spacing="0.969">Jun</text>
<text x="1192.97" y="1090.00" font-size="24" fill="#0b0b0b" font-weight="700" letter-spacing="3.703">2025</text>
<text x="1379.42" y="1090.00" font-size="24" fill="#0b0b0b" letter-spacing="1.469">Jun</text>
<text x="1615.47" y="1090.00" font-size="24" fill="#0b0b0b" font-weight="700" letter-spacing="3.770">2026</text>
<clipPath id="cj"><rect x="1790" y="1060" width="42.3" height="50"/></clipPath>
<text x="1802.12" y="1090.00" font-size="24" fill="#0b0b0b" letter-spacing="1.650" clip-path="url(#cj)">Jul</text>
<circle cx="73" cy="1081" r="19" fill="#f5f5f5"/>
<circle cx="1919" cy="1081" r="19" fill="#f5f5f5"/>
<text x="66.13" y="1088.60" font-size="21" fill="#4a4a4a" letter-spacing="0.000">Z</text>
<text x="1911.96" y="1088.80" font-size="21" fill="#4a4a4a" letter-spacing="0.000">A</text>
<path d="M20 1132.3h15.5v19.2h-8.1v-11.6h-7.4z" fill="#1c1c1c"/>
<circle cx="41.85" cy="1136.4" r="4.1" fill="#1c1c1c"/>
<path d="M50.4 1132.3h8.8l-7.7 19.2h-9.1z" fill="#1c1c1c"/>
<text x="66.74" y="1152.40" font-size="25" fill="#1c1c1c" letter-spacing="0.915">TradingView</text>
</svg>
</body></html>
